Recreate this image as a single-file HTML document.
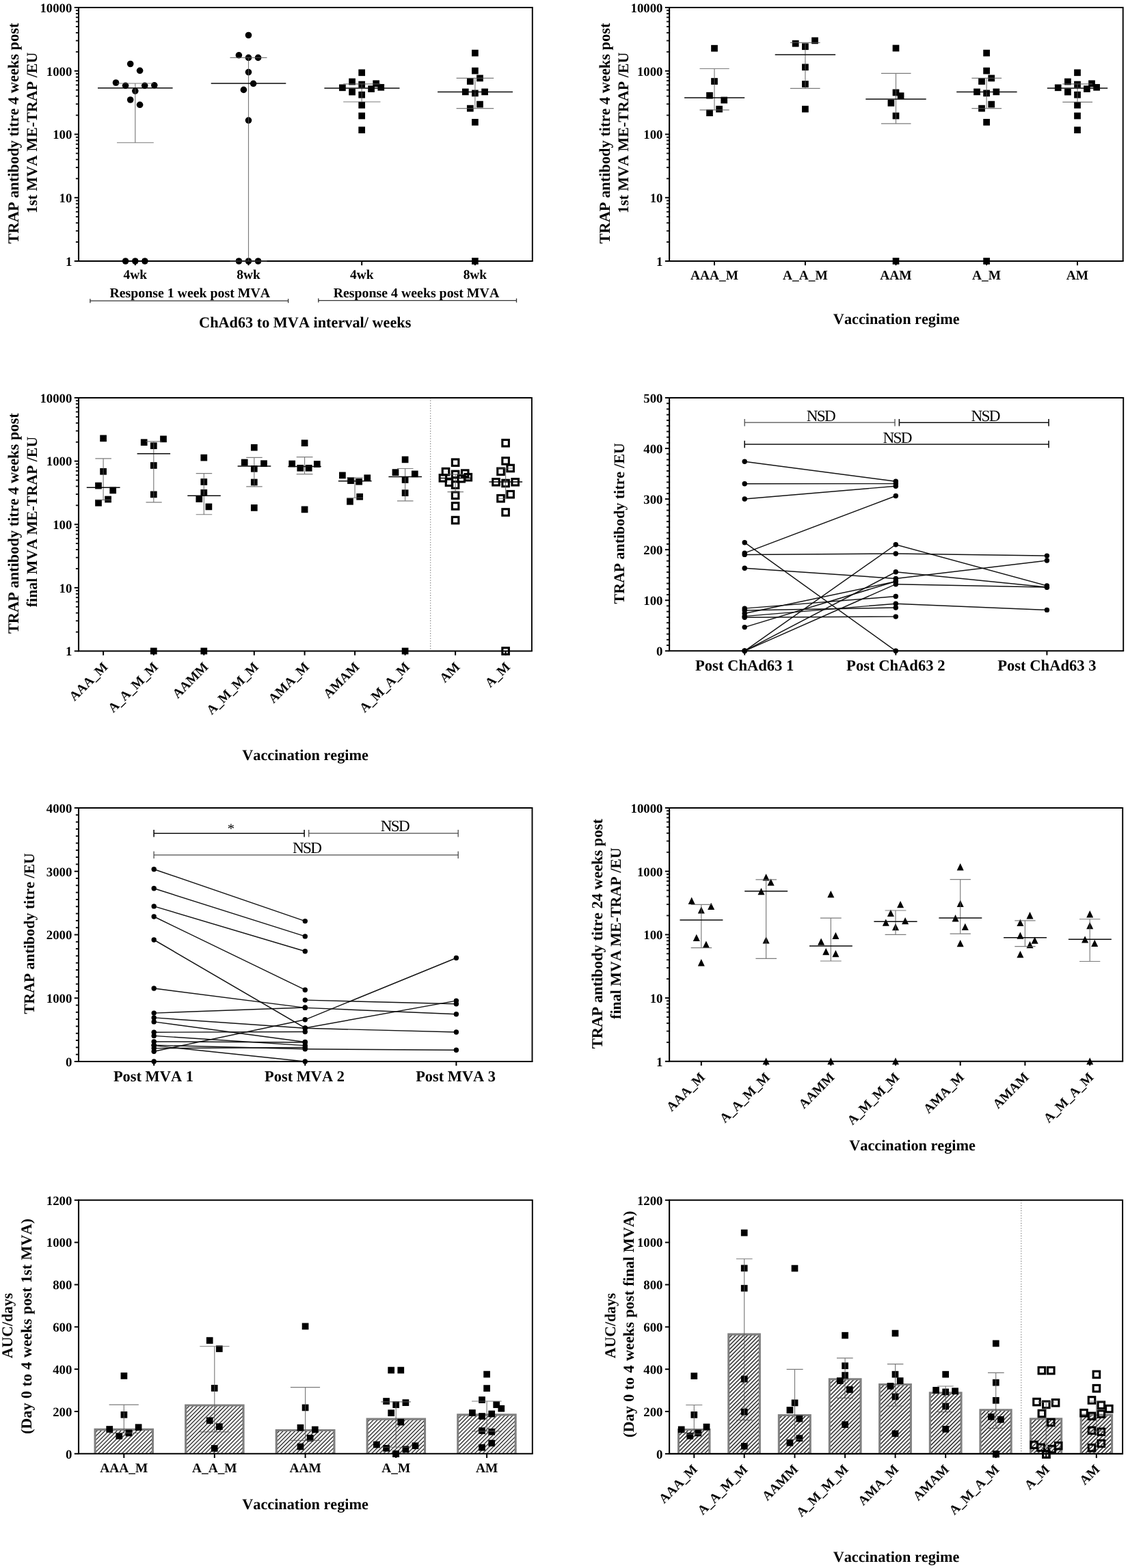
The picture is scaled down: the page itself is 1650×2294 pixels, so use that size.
<!DOCTYPE html>
<html lang="en"><head><meta charset="utf-8"><title>TRAP antibody titres and AUC by vaccination regime</title>
<style>html,body{margin:0;padding:0;background:#fff}body{width:1650px;height:2294px;overflow:hidden}svg{display:block}text{font-family:'Liberation Serif', 'DejaVu Serif', serif;fill:#000;font-kerning:none;font-variant-ligatures:none;text-rendering:geometricPrecision}</style>
</head><body>
<svg width="1650" height="2294" viewBox="0 0 1650 2294" role="img" aria-label="TRAP antibody titres and AUC by vaccination regime">
<defs>
<pattern id="hatch" width="4.1" height="4.1" patternUnits="userSpaceOnUse" patternTransform="rotate(-45)"><rect width="4.1" height="4.1" fill="#fff"/><line x1="0" y1="2.05" x2="4.1" y2="2.05" stroke="#000" stroke-width="1.3"/></pattern>
<pattern id="hatchG" width="4.1" height="4.1" patternUnits="userSpaceOnUse" patternTransform="rotate(-45)"><rect width="4.1" height="4.1" fill="#fff"/><line x1="0" y1="2.05" x2="4.1" y2="2.05" stroke="#000" stroke-width="1.12"/></pattern>
</defs>
<rect width="1650" height="2294" fill="#fff"/>
<g id="panelA">
<text x="26.8" y="195" font-size="22.4" font-weight="bold" text-anchor="middle" transform="rotate(-90 26.8 195)" xml:space="preserve">TRAP antibody titre 4 weeks post</text>
<text x="53.8" y="194.3" font-size="22" font-weight="bold" text-anchor="middle" transform="rotate(-90 53.8 194.3)" xml:space="preserve">1st MVA ME-TRAP /EU</text>
<line x1="197.8" y1="382" x2="197.8" y2="388.2" stroke="#000" stroke-width="2" />
<line x1="363.5" y1="382" x2="363.5" y2="388.2" stroke="#000" stroke-width="2" />
<line x1="529.2" y1="382" x2="529.2" y2="388.2" stroke="#000" stroke-width="2" />
<line x1="694.9" y1="382" x2="694.9" y2="388.2" stroke="#000" stroke-width="2" />
<path d="M115 11H778.8V382" fill="none" stroke="#000" stroke-width="1.9"/>
<path d="M115 10.05V382H779.75" fill="none" stroke="#000" stroke-width="2.1"/>
<line x1="108.8" y1="11" x2="115" y2="11" stroke="#000" stroke-width="2" />
<text x="105.4" y="17.8" font-size="18.8" font-weight="bold" text-anchor="end" >10000</text>
<line x1="110.9" y1="75.83" x2="115" y2="75.83" stroke="#000" stroke-width="1.8" />
<line x1="110.9" y1="59.5" x2="115" y2="59.5" stroke="#000" stroke-width="1.8" />
<line x1="110.9" y1="47.91" x2="115" y2="47.91" stroke="#000" stroke-width="1.8" />
<line x1="110.9" y1="38.92" x2="115" y2="38.92" stroke="#000" stroke-width="1.8" />
<line x1="110.9" y1="31.58" x2="115" y2="31.58" stroke="#000" stroke-width="1.8" />
<line x1="110.9" y1="25.37" x2="115" y2="25.37" stroke="#000" stroke-width="1.8" />
<line x1="110.9" y1="19.99" x2="115" y2="19.99" stroke="#000" stroke-width="1.8" />
<line x1="110.9" y1="15.24" x2="115" y2="15.24" stroke="#000" stroke-width="1.8" />
<line x1="108.8" y1="103.75" x2="115" y2="103.75" stroke="#000" stroke-width="2" />
<text x="105.4" y="110.55" font-size="18.8" font-weight="bold" text-anchor="end" >1000</text>
<line x1="110.9" y1="168.58" x2="115" y2="168.58" stroke="#000" stroke-width="1.8" />
<line x1="110.9" y1="152.25" x2="115" y2="152.25" stroke="#000" stroke-width="1.8" />
<line x1="110.9" y1="140.66" x2="115" y2="140.66" stroke="#000" stroke-width="1.8" />
<line x1="110.9" y1="131.67" x2="115" y2="131.67" stroke="#000" stroke-width="1.8" />
<line x1="110.9" y1="124.33" x2="115" y2="124.33" stroke="#000" stroke-width="1.8" />
<line x1="110.9" y1="118.12" x2="115" y2="118.12" stroke="#000" stroke-width="1.8" />
<line x1="110.9" y1="112.74" x2="115" y2="112.74" stroke="#000" stroke-width="1.8" />
<line x1="110.9" y1="107.99" x2="115" y2="107.99" stroke="#000" stroke-width="1.8" />
<line x1="108.8" y1="196.5" x2="115" y2="196.5" stroke="#000" stroke-width="2" />
<text x="105.4" y="203.3" font-size="18.8" font-weight="bold" text-anchor="end" >100</text>
<line x1="110.9" y1="261.33" x2="115" y2="261.33" stroke="#000" stroke-width="1.8" />
<line x1="110.9" y1="245" x2="115" y2="245" stroke="#000" stroke-width="1.8" />
<line x1="110.9" y1="233.41" x2="115" y2="233.41" stroke="#000" stroke-width="1.8" />
<line x1="110.9" y1="224.42" x2="115" y2="224.42" stroke="#000" stroke-width="1.8" />
<line x1="110.9" y1="217.08" x2="115" y2="217.08" stroke="#000" stroke-width="1.8" />
<line x1="110.9" y1="210.87" x2="115" y2="210.87" stroke="#000" stroke-width="1.8" />
<line x1="110.9" y1="205.49" x2="115" y2="205.49" stroke="#000" stroke-width="1.8" />
<line x1="110.9" y1="200.74" x2="115" y2="200.74" stroke="#000" stroke-width="1.8" />
<line x1="108.8" y1="289.25" x2="115" y2="289.25" stroke="#000" stroke-width="2" />
<text x="105.4" y="296.05" font-size="18.8" font-weight="bold" text-anchor="end" >10</text>
<line x1="110.9" y1="354.08" x2="115" y2="354.08" stroke="#000" stroke-width="1.8" />
<line x1="110.9" y1="337.75" x2="115" y2="337.75" stroke="#000" stroke-width="1.8" />
<line x1="110.9" y1="326.16" x2="115" y2="326.16" stroke="#000" stroke-width="1.8" />
<line x1="110.9" y1="317.17" x2="115" y2="317.17" stroke="#000" stroke-width="1.8" />
<line x1="110.9" y1="309.83" x2="115" y2="309.83" stroke="#000" stroke-width="1.8" />
<line x1="110.9" y1="303.62" x2="115" y2="303.62" stroke="#000" stroke-width="1.8" />
<line x1="110.9" y1="298.24" x2="115" y2="298.24" stroke="#000" stroke-width="1.8" />
<line x1="110.9" y1="293.49" x2="115" y2="293.49" stroke="#000" stroke-width="1.8" />
<line x1="108.8" y1="382" x2="115" y2="382" stroke="#000" stroke-width="2" />
<text x="105.4" y="388.8" font-size="18.8" font-weight="bold" text-anchor="end" >1</text>
<circle cx="190.7" cy="93.5" r="4.8"/>
<circle cx="204.6" cy="103.3" r="4.8"/>
<circle cx="169.5" cy="121" r="4.8"/>
<circle cx="183.6" cy="125.3" r="4.8"/>
<circle cx="211.7" cy="125.3" r="4.8"/>
<circle cx="225.8" cy="124.8" r="4.8"/>
<circle cx="197.8" cy="133.1" r="4.8"/>
<circle cx="190.7" cy="146" r="4.8"/>
<circle cx="204.6" cy="153.3" r="4.8"/>
<circle cx="183.6" cy="382" r="4.8"/>
<circle cx="197.8" cy="382" r="4.8"/>
<circle cx="211.9" cy="382" r="4.8"/>
<path d="M171 122H224.8M171 208.7H224.8M197.8 122V208.7" fill="none" stroke="#5a5a5a" stroke-width="1.15" stroke-opacity="0.8"/>
<line x1="143" y1="128.8" x2="252.6" y2="128.8" stroke="#0a0a0a" stroke-width="1.5" />
<circle cx="363.5" cy="51.5" r="4.8"/>
<circle cx="349.4" cy="80.8" r="4.8"/>
<circle cx="363.5" cy="84.4" r="4.8"/>
<circle cx="377.6" cy="84.4" r="4.8"/>
<circle cx="363.5" cy="105.6" r="4.8"/>
<circle cx="370.6" cy="122.3" r="4.8"/>
<circle cx="356.4" cy="131.4" r="4.8"/>
<circle cx="363.5" cy="176.1" r="4.8"/>
<circle cx="349.4" cy="382" r="4.8"/>
<circle cx="363.5" cy="382" r="4.8"/>
<circle cx="377.6" cy="382" r="4.8"/>
<path d="M336.5 84.4H390.5M336.5 382H390.5M363.5 84.4V382" fill="none" stroke="#5a5a5a" stroke-width="1.15" stroke-opacity="0.8"/>
<line x1="308.7" y1="122" x2="418.3" y2="122" stroke="#0a0a0a" stroke-width="1.5" />
<rect x="524.35" y="101.45" width="9.7" height="9.7"/>
<rect x="510.25" y="114.65" width="9.7" height="9.7"/>
<rect x="524.35" y="118.65" width="9.7" height="9.7"/>
<rect x="545.35" y="117.45" width="9.7" height="9.7"/>
<rect x="496.05" y="123.45" width="9.7" height="9.7"/>
<rect x="552.45" y="122.95" width="9.7" height="9.7"/>
<rect x="538.25" y="125.25" width="9.7" height="9.7"/>
<rect x="510.25" y="129.75" width="9.7" height="9.7"/>
<rect x="524.35" y="133.85" width="9.7" height="9.7"/>
<rect x="524.35" y="148.95" width="9.7" height="9.7"/>
<rect x="524.35" y="164.65" width="9.7" height="9.7"/>
<rect x="524.35" y="185.35" width="9.7" height="9.7"/>
<path d="M502.2 122.8H556.5M502.2 149H556.5M529.2 122.8V149" fill="none" stroke="#5a5a5a" stroke-width="1.15" stroke-opacity="0.8"/>
<line x1="474.4" y1="129.1" x2="584.5" y2="129.1" stroke="#0a0a0a" stroke-width="1.5" />
<rect x="690.05" y="72.75" width="9.7" height="9.7"/>
<rect x="690.05" y="98.75" width="9.7" height="9.7"/>
<rect x="697.15" y="109.55" width="9.7" height="9.7"/>
<rect x="682.95" y="114.15" width="9.7" height="9.7"/>
<rect x="675.95" y="129.55" width="9.7" height="9.7"/>
<rect x="690.05" y="131.55" width="9.7" height="9.7"/>
<rect x="704.25" y="129.55" width="9.7" height="9.7"/>
<rect x="697.15" y="147.75" width="9.7" height="9.7"/>
<rect x="682.95" y="153.75" width="9.7" height="9.7"/>
<rect x="690.05" y="173.95" width="9.7" height="9.7"/>
<rect x="690.05" y="377.15" width="9.7" height="9.7"/>
<path d="M667.6 114.4H722.2M667.6 158.6H722.2M694.9 114.4V158.6" fill="none" stroke="#5a5a5a" stroke-width="1.15" stroke-opacity="0.8"/>
<line x1="640.1" y1="134.4" x2="750" y2="134.4" stroke="#0a0a0a" stroke-width="1.5" />
<text x="197.8" y="408.3" font-size="19.4" font-weight="bold" text-anchor="middle" >4wk</text>
<text x="363.5" y="408.3" font-size="19.4" font-weight="bold" text-anchor="middle" >8wk</text>
<text x="529.2" y="408.3" font-size="19.4" font-weight="bold" text-anchor="middle" >4wk</text>
<text x="694.9" y="408.3" font-size="19.4" font-weight="bold" text-anchor="middle" >8wk</text>
<text x="277.8" y="435" font-size="19.85" font-weight="bold" text-anchor="middle" >Response 1 week post MVA</text>
<text x="609" y="435" font-size="19.85" font-weight="bold" text-anchor="middle" >Response 4 weeks post MVA</text>
<line x1="131.9" y1="440.2" x2="421.6" y2="440.2" stroke="#333" stroke-width="1.3" />
<line x1="131.9" y1="437.2" x2="131.9" y2="443.2" stroke="#333" stroke-width="1.3" />
<line x1="421.6" y1="437.2" x2="421.6" y2="443.2" stroke="#333" stroke-width="1.3" />
<line x1="465.8" y1="439.6" x2="755.5" y2="439.6" stroke="#333" stroke-width="1.3" />
<line x1="465.8" y1="436.6" x2="465.8" y2="442.6" stroke="#333" stroke-width="1.3" />
<line x1="755.5" y1="436.6" x2="755.5" y2="442.6" stroke="#333" stroke-width="1.3" />
<text x="446.2" y="479" font-size="22.25" font-weight="bold" text-anchor="middle" >ChAd63 to MVA interval/ weeks</text>
</g>
<g id="panelB">
<text x="891.9" y="195" font-size="22.4" font-weight="bold" text-anchor="middle" transform="rotate(-90 891.9 195)" xml:space="preserve">TRAP antibody titre 4 weeks post</text>
<text x="919" y="194.3" font-size="22" font-weight="bold" text-anchor="middle" transform="rotate(-90 919 194.3)" xml:space="preserve">1st MVA ME-TRAP /EU</text>
<line x1="1045" y1="382" x2="1045" y2="388.2" stroke="#000" stroke-width="2" />
<line x1="1177.9" y1="382" x2="1177.9" y2="388.2" stroke="#000" stroke-width="2" />
<line x1="1310.5" y1="382" x2="1310.5" y2="388.2" stroke="#000" stroke-width="2" />
<line x1="1443.1" y1="382" x2="1443.1" y2="388.2" stroke="#000" stroke-width="2" />
<line x1="1576" y1="382" x2="1576" y2="388.2" stroke="#000" stroke-width="2" />
<path d="M979.1 11H1642.7V382" fill="none" stroke="#000" stroke-width="1.9"/>
<path d="M979.1 10.05V382H1643.65" fill="none" stroke="#000" stroke-width="2.1"/>
<line x1="972.9" y1="11" x2="979.1" y2="11" stroke="#000" stroke-width="2" />
<text x="969.5" y="17.8" font-size="18.8" font-weight="bold" text-anchor="end" >10000</text>
<line x1="975" y1="75.83" x2="979.1" y2="75.83" stroke="#000" stroke-width="1.8" />
<line x1="975" y1="59.5" x2="979.1" y2="59.5" stroke="#000" stroke-width="1.8" />
<line x1="975" y1="47.91" x2="979.1" y2="47.91" stroke="#000" stroke-width="1.8" />
<line x1="975" y1="38.92" x2="979.1" y2="38.92" stroke="#000" stroke-width="1.8" />
<line x1="975" y1="31.58" x2="979.1" y2="31.58" stroke="#000" stroke-width="1.8" />
<line x1="975" y1="25.37" x2="979.1" y2="25.37" stroke="#000" stroke-width="1.8" />
<line x1="975" y1="19.99" x2="979.1" y2="19.99" stroke="#000" stroke-width="1.8" />
<line x1="975" y1="15.24" x2="979.1" y2="15.24" stroke="#000" stroke-width="1.8" />
<line x1="972.9" y1="103.75" x2="979.1" y2="103.75" stroke="#000" stroke-width="2" />
<text x="969.5" y="110.55" font-size="18.8" font-weight="bold" text-anchor="end" >1000</text>
<line x1="975" y1="168.58" x2="979.1" y2="168.58" stroke="#000" stroke-width="1.8" />
<line x1="975" y1="152.25" x2="979.1" y2="152.25" stroke="#000" stroke-width="1.8" />
<line x1="975" y1="140.66" x2="979.1" y2="140.66" stroke="#000" stroke-width="1.8" />
<line x1="975" y1="131.67" x2="979.1" y2="131.67" stroke="#000" stroke-width="1.8" />
<line x1="975" y1="124.33" x2="979.1" y2="124.33" stroke="#000" stroke-width="1.8" />
<line x1="975" y1="118.12" x2="979.1" y2="118.12" stroke="#000" stroke-width="1.8" />
<line x1="975" y1="112.74" x2="979.1" y2="112.74" stroke="#000" stroke-width="1.8" />
<line x1="975" y1="107.99" x2="979.1" y2="107.99" stroke="#000" stroke-width="1.8" />
<line x1="972.9" y1="196.5" x2="979.1" y2="196.5" stroke="#000" stroke-width="2" />
<text x="969.5" y="203.3" font-size="18.8" font-weight="bold" text-anchor="end" >100</text>
<line x1="975" y1="261.33" x2="979.1" y2="261.33" stroke="#000" stroke-width="1.8" />
<line x1="975" y1="245" x2="979.1" y2="245" stroke="#000" stroke-width="1.8" />
<line x1="975" y1="233.41" x2="979.1" y2="233.41" stroke="#000" stroke-width="1.8" />
<line x1="975" y1="224.42" x2="979.1" y2="224.42" stroke="#000" stroke-width="1.8" />
<line x1="975" y1="217.08" x2="979.1" y2="217.08" stroke="#000" stroke-width="1.8" />
<line x1="975" y1="210.87" x2="979.1" y2="210.87" stroke="#000" stroke-width="1.8" />
<line x1="975" y1="205.49" x2="979.1" y2="205.49" stroke="#000" stroke-width="1.8" />
<line x1="975" y1="200.74" x2="979.1" y2="200.74" stroke="#000" stroke-width="1.8" />
<line x1="972.9" y1="289.25" x2="979.1" y2="289.25" stroke="#000" stroke-width="2" />
<text x="969.5" y="296.05" font-size="18.8" font-weight="bold" text-anchor="end" >10</text>
<line x1="975" y1="354.08" x2="979.1" y2="354.08" stroke="#000" stroke-width="1.8" />
<line x1="975" y1="337.75" x2="979.1" y2="337.75" stroke="#000" stroke-width="1.8" />
<line x1="975" y1="326.16" x2="979.1" y2="326.16" stroke="#000" stroke-width="1.8" />
<line x1="975" y1="317.17" x2="979.1" y2="317.17" stroke="#000" stroke-width="1.8" />
<line x1="975" y1="309.83" x2="979.1" y2="309.83" stroke="#000" stroke-width="1.8" />
<line x1="975" y1="303.62" x2="979.1" y2="303.62" stroke="#000" stroke-width="1.8" />
<line x1="975" y1="298.24" x2="979.1" y2="298.24" stroke="#000" stroke-width="1.8" />
<line x1="975" y1="293.49" x2="979.1" y2="293.49" stroke="#000" stroke-width="1.8" />
<line x1="972.9" y1="382" x2="979.1" y2="382" stroke="#000" stroke-width="2" />
<text x="969.5" y="388.8" font-size="18.8" font-weight="bold" text-anchor="end" >1</text>
<rect x="1040.15" y="65.85" width="9.7" height="9.7"/>
<rect x="1040.15" y="114.15" width="9.7" height="9.7"/>
<rect x="1033.15" y="134.85" width="9.7" height="9.7"/>
<rect x="1054.35" y="141.65" width="9.7" height="9.7"/>
<rect x="1047.25" y="154.75" width="9.7" height="9.7"/>
<rect x="1033.15" y="160.35" width="9.7" height="9.7"/>
<path d="M1023.5 100.5H1066.7M1023.5 160.9H1066.7M1045 100.5V160.9" fill="none" stroke="#5a5a5a" stroke-width="1.15" stroke-opacity="0.8"/>
<line x1="1001.1" y1="143" x2="1089.2" y2="143" stroke="#0a0a0a" stroke-width="1.5" />
<rect x="1158.85" y="58.85" width="9.7" height="9.7"/>
<rect x="1187.15" y="54.55" width="9.7" height="9.7"/>
<rect x="1173.05" y="63.35" width="9.7" height="9.7"/>
<rect x="1173.05" y="93.45" width="9.7" height="9.7"/>
<rect x="1173.05" y="118.15" width="9.7" height="9.7"/>
<rect x="1173.05" y="154.75" width="9.7" height="9.7"/>
<path d="M1155.9 62.4H1199.6M1155.9 129.3H1199.6M1177.9 62.4V129.3" fill="none" stroke="#5a5a5a" stroke-width="1.15" stroke-opacity="0.8"/>
<line x1="1133.7" y1="80.1" x2="1222.1" y2="80.1" stroke="#0a0a0a" stroke-width="1.5" />
<rect x="1305.65" y="65.65" width="9.7" height="9.7"/>
<rect x="1305.65" y="130.55" width="9.7" height="9.7"/>
<rect x="1312.75" y="135.35" width="9.7" height="9.7"/>
<rect x="1298.55" y="145.95" width="9.7" height="9.7"/>
<rect x="1305.65" y="164.65" width="9.7" height="9.7"/>
<rect x="1305.65" y="377.15" width="9.7" height="9.7"/>
<path d="M1289 107.4H1332.5M1289 180.9H1332.5M1310.5 107.4V180.9" fill="none" stroke="#5a5a5a" stroke-width="1.15" stroke-opacity="0.8"/>
<line x1="1266.3" y1="145" x2="1354.7" y2="145" stroke="#0a0a0a" stroke-width="1.5" />
<rect x="1438.25" y="72.75" width="9.7" height="9.7"/>
<rect x="1438.25" y="98.75" width="9.7" height="9.7"/>
<rect x="1445.35" y="109.55" width="9.7" height="9.7"/>
<rect x="1431.15" y="114.15" width="9.7" height="9.7"/>
<rect x="1424.15" y="129.55" width="9.7" height="9.7"/>
<rect x="1438.25" y="131.55" width="9.7" height="9.7"/>
<rect x="1452.45" y="129.55" width="9.7" height="9.7"/>
<rect x="1445.35" y="147.75" width="9.7" height="9.7"/>
<rect x="1431.15" y="153.75" width="9.7" height="9.7"/>
<rect x="1438.25" y="173.95" width="9.7" height="9.7"/>
<rect x="1438.25" y="377.15" width="9.7" height="9.7"/>
<path d="M1421.4 114.4H1465.1M1421.4 158.6H1465.1M1443.1 114.4V158.6" fill="none" stroke="#5a5a5a" stroke-width="1.15" stroke-opacity="0.8"/>
<line x1="1399.2" y1="134.4" x2="1487.6" y2="134.4" stroke="#0a0a0a" stroke-width="1.5" />
<rect x="1571.15" y="101.45" width="9.7" height="9.7"/>
<rect x="1557.05" y="114.65" width="9.7" height="9.7"/>
<rect x="1571.15" y="118.65" width="9.7" height="9.7"/>
<rect x="1592.15" y="117.45" width="9.7" height="9.7"/>
<rect x="1542.85" y="123.45" width="9.7" height="9.7"/>
<rect x="1599.25" y="122.95" width="9.7" height="9.7"/>
<rect x="1585.05" y="125.25" width="9.7" height="9.7"/>
<rect x="1557.05" y="129.75" width="9.7" height="9.7"/>
<rect x="1571.15" y="133.85" width="9.7" height="9.7"/>
<rect x="1571.15" y="148.95" width="9.7" height="9.7"/>
<rect x="1571.15" y="164.65" width="9.7" height="9.7"/>
<rect x="1571.15" y="185.35" width="9.7" height="9.7"/>
<path d="M1554.3 122.8H1598M1554.3 149.3H1598M1576 122.8V149.3" fill="none" stroke="#5a5a5a" stroke-width="1.15" stroke-opacity="0.8"/>
<line x1="1531.8" y1="129.1" x2="1620.2" y2="129.1" stroke="#0a0a0a" stroke-width="1.5" />
<text x="1045" y="408.5" font-size="19.4" font-weight="bold" text-anchor="middle" >AAA_M</text>
<text x="1177.9" y="408.5" font-size="19.4" font-weight="bold" text-anchor="middle" >A_A_M</text>
<text x="1310.5" y="408.5" font-size="19.4" font-weight="bold" text-anchor="middle" >AAM</text>
<text x="1443.1" y="408.5" font-size="19.4" font-weight="bold" text-anchor="middle" >A_M</text>
<text x="1576" y="408.5" font-size="19.4" font-weight="bold" text-anchor="middle" >AM</text>
<text x="1311.2" y="474.2" font-size="22.25" font-weight="bold" text-anchor="middle" >Vaccination regime</text>
</g>
<g id="panelC">
<text x="26.8" y="765.7" font-size="22.4" font-weight="bold" text-anchor="middle" transform="rotate(-90 26.8 765.7)" xml:space="preserve">TRAP antibody titre 4 weeks post</text>
<text x="53.8" y="763.5" font-size="21.85" font-weight="bold" text-anchor="middle" transform="rotate(-90 53.8 763.5)" xml:space="preserve">final MVA ME-TRAP /EU</text>
<line x1="151.1" y1="952.5" x2="151.1" y2="958.7" stroke="#000" stroke-width="2" />
<line x1="224.8" y1="952.5" x2="224.8" y2="958.7" stroke="#000" stroke-width="2" />
<line x1="298.3" y1="952.5" x2="298.3" y2="958.7" stroke="#000" stroke-width="2" />
<line x1="371.8" y1="952.5" x2="371.8" y2="958.7" stroke="#000" stroke-width="2" />
<line x1="445.6" y1="952.5" x2="445.6" y2="958.7" stroke="#000" stroke-width="2" />
<line x1="519.1" y1="952.5" x2="519.1" y2="958.7" stroke="#000" stroke-width="2" />
<line x1="592.6" y1="952.5" x2="592.6" y2="958.7" stroke="#000" stroke-width="2" />
<line x1="666.1" y1="952.5" x2="666.1" y2="958.7" stroke="#000" stroke-width="2" />
<line x1="739.6" y1="952.5" x2="739.6" y2="958.7" stroke="#000" stroke-width="2" />
<line x1="629.7" y1="582" x2="629.7" y2="952.5" stroke="#777" stroke-width="1.1" stroke-dasharray="1.3 2.4"/>
<path d="M115 582H777.9V952.5" fill="none" stroke="#000" stroke-width="1.9"/>
<path d="M115 581.05V952.5H778.85" fill="none" stroke="#000" stroke-width="2.1"/>
<line x1="108.8" y1="582" x2="115" y2="582" stroke="#000" stroke-width="2" />
<text x="105.4" y="588.8" font-size="18.8" font-weight="bold" text-anchor="end" >10000</text>
<line x1="110.9" y1="646.74" x2="115" y2="646.74" stroke="#000" stroke-width="1.8" />
<line x1="110.9" y1="630.43" x2="115" y2="630.43" stroke="#000" stroke-width="1.8" />
<line x1="110.9" y1="618.86" x2="115" y2="618.86" stroke="#000" stroke-width="1.8" />
<line x1="110.9" y1="609.88" x2="115" y2="609.88" stroke="#000" stroke-width="1.8" />
<line x1="110.9" y1="602.55" x2="115" y2="602.55" stroke="#000" stroke-width="1.8" />
<line x1="110.9" y1="596.35" x2="115" y2="596.35" stroke="#000" stroke-width="1.8" />
<line x1="110.9" y1="590.98" x2="115" y2="590.98" stroke="#000" stroke-width="1.8" />
<line x1="110.9" y1="586.24" x2="115" y2="586.24" stroke="#000" stroke-width="1.8" />
<line x1="108.8" y1="674.62" x2="115" y2="674.62" stroke="#000" stroke-width="2" />
<text x="105.4" y="681.42" font-size="18.8" font-weight="bold" text-anchor="end" >1000</text>
<line x1="110.9" y1="739.37" x2="115" y2="739.37" stroke="#000" stroke-width="1.8" />
<line x1="110.9" y1="723.06" x2="115" y2="723.06" stroke="#000" stroke-width="1.8" />
<line x1="110.9" y1="711.48" x2="115" y2="711.48" stroke="#000" stroke-width="1.8" />
<line x1="110.9" y1="702.51" x2="115" y2="702.51" stroke="#000" stroke-width="1.8" />
<line x1="110.9" y1="695.17" x2="115" y2="695.17" stroke="#000" stroke-width="1.8" />
<line x1="110.9" y1="688.97" x2="115" y2="688.97" stroke="#000" stroke-width="1.8" />
<line x1="110.9" y1="683.6" x2="115" y2="683.6" stroke="#000" stroke-width="1.8" />
<line x1="110.9" y1="678.86" x2="115" y2="678.86" stroke="#000" stroke-width="1.8" />
<line x1="108.8" y1="767.25" x2="115" y2="767.25" stroke="#000" stroke-width="2" />
<text x="105.4" y="774.05" font-size="18.8" font-weight="bold" text-anchor="end" >100</text>
<line x1="110.9" y1="831.99" x2="115" y2="831.99" stroke="#000" stroke-width="1.8" />
<line x1="110.9" y1="815.68" x2="115" y2="815.68" stroke="#000" stroke-width="1.8" />
<line x1="110.9" y1="804.11" x2="115" y2="804.11" stroke="#000" stroke-width="1.8" />
<line x1="110.9" y1="795.13" x2="115" y2="795.13" stroke="#000" stroke-width="1.8" />
<line x1="110.9" y1="787.8" x2="115" y2="787.8" stroke="#000" stroke-width="1.8" />
<line x1="110.9" y1="781.6" x2="115" y2="781.6" stroke="#000" stroke-width="1.8" />
<line x1="110.9" y1="776.23" x2="115" y2="776.23" stroke="#000" stroke-width="1.8" />
<line x1="110.9" y1="771.49" x2="115" y2="771.49" stroke="#000" stroke-width="1.8" />
<line x1="108.8" y1="859.88" x2="115" y2="859.88" stroke="#000" stroke-width="2" />
<text x="105.4" y="866.67" font-size="18.8" font-weight="bold" text-anchor="end" >10</text>
<line x1="110.9" y1="924.62" x2="115" y2="924.62" stroke="#000" stroke-width="1.8" />
<line x1="110.9" y1="908.31" x2="115" y2="908.31" stroke="#000" stroke-width="1.8" />
<line x1="110.9" y1="896.73" x2="115" y2="896.73" stroke="#000" stroke-width="1.8" />
<line x1="110.9" y1="887.76" x2="115" y2="887.76" stroke="#000" stroke-width="1.8" />
<line x1="110.9" y1="880.42" x2="115" y2="880.42" stroke="#000" stroke-width="1.8" />
<line x1="110.9" y1="874.22" x2="115" y2="874.22" stroke="#000" stroke-width="1.8" />
<line x1="110.9" y1="868.85" x2="115" y2="868.85" stroke="#000" stroke-width="1.8" />
<line x1="110.9" y1="864.11" x2="115" y2="864.11" stroke="#000" stroke-width="1.8" />
<line x1="108.8" y1="952.5" x2="115" y2="952.5" stroke="#000" stroke-width="2" />
<text x="105.4" y="959.3" font-size="18.8" font-weight="bold" text-anchor="end" >1</text>
<rect x="146.25" y="636.45" width="9.7" height="9.7"/>
<rect x="146.25" y="684.95" width="9.7" height="9.7"/>
<rect x="139.15" y="705.75" width="9.7" height="9.7"/>
<rect x="160.35" y="712.55" width="9.7" height="9.7"/>
<rect x="153.25" y="725.65" width="9.7" height="9.7"/>
<rect x="139.15" y="730.95" width="9.7" height="9.7"/>
<path d="M139.4 670.9H162.9M139.4 731.3H162.9M151.1 670.9V731.3" fill="none" stroke="#5a5a5a" stroke-width="1.15" stroke-opacity="0.8"/>
<line x1="126.8" y1="713.3" x2="175.6" y2="713.3" stroke="#0a0a0a" stroke-width="1.5" />
<rect x="205.85" y="642.35" width="9.7" height="9.7"/>
<rect x="234.15" y="637.45" width="9.7" height="9.7"/>
<rect x="219.95" y="647.35" width="9.7" height="9.7"/>
<rect x="219.95" y="676.15" width="9.7" height="9.7"/>
<rect x="219.95" y="718.55" width="9.7" height="9.7"/>
<rect x="219.95" y="947.65" width="9.7" height="9.7"/>
<path d="M213.5 645.9H236.7M213.5 734.8H236.7M224.8 645.9V734.8" fill="none" stroke="#5a5a5a" stroke-width="1.15" stroke-opacity="0.8"/>
<line x1="200.6" y1="663.8" x2="249.1" y2="663.8" stroke="#0a0a0a" stroke-width="1.5" />
<rect x="293.45" y="664.75" width="9.7" height="9.7"/>
<rect x="293.45" y="700.15" width="9.7" height="9.7"/>
<rect x="293.45" y="716.05" width="9.7" height="9.7"/>
<rect x="286.45" y="725.15" width="9.7" height="9.7"/>
<rect x="300.55" y="736.55" width="9.7" height="9.7"/>
<rect x="293.45" y="947.65" width="9.7" height="9.7"/>
<path d="M286.7 692.6H310.2M286.7 752.7H310.2M298.3 692.6V752.7" fill="none" stroke="#5a5a5a" stroke-width="1.15" stroke-opacity="0.8"/>
<line x1="274.3" y1="725.2" x2="322.8" y2="725.2" stroke="#0a0a0a" stroke-width="1.5" />
<rect x="366.95" y="649.85" width="9.7" height="9.7"/>
<rect x="352.85" y="671.65" width="9.7" height="9.7"/>
<rect x="381.15" y="673.35" width="9.7" height="9.7"/>
<rect x="366.95" y="680.95" width="9.7" height="9.7"/>
<rect x="366.95" y="700.65" width="9.7" height="9.7"/>
<rect x="366.95" y="738.05" width="9.7" height="9.7"/>
<path d="M360.2 669.4H383.7M360.2 711.8H383.7M371.8 669.4V711.8" fill="none" stroke="#5a5a5a" stroke-width="1.15" stroke-opacity="0.8"/>
<line x1="347.6" y1="682" x2="396.3" y2="682" stroke="#0a0a0a" stroke-width="1.5" />
<rect x="440.75" y="643.35" width="9.7" height="9.7"/>
<rect x="422.35" y="673.65" width="9.7" height="9.7"/>
<rect x="434.45" y="679.95" width="9.7" height="9.7"/>
<rect x="446.85" y="679.95" width="9.7" height="9.7"/>
<rect x="458.95" y="674.15" width="9.7" height="9.7"/>
<rect x="440.75" y="740.55" width="9.7" height="9.7"/>
<path d="M433.7 668.6H457.5M433.7 693.6H457.5M445.6 668.6V693.6" fill="none" stroke="#5a5a5a" stroke-width="1.15" stroke-opacity="0.8"/>
<line x1="421.3" y1="682.5" x2="469.8" y2="682.5" stroke="#0a0a0a" stroke-width="1.5" />
<rect x="496.05" y="690.55" width="9.7" height="9.7"/>
<rect x="508.15" y="698.35" width="9.7" height="9.7"/>
<rect x="520.35" y="699.85" width="9.7" height="9.7"/>
<rect x="532.45" y="694.35" width="9.7" height="9.7"/>
<rect x="521.35" y="721.85" width="9.7" height="9.7"/>
<rect x="507.15" y="728.95" width="9.7" height="9.7"/>
<path d="M507.2 698.7H530.7M507.2 728.2H530.7M519.1 698.7V728.2" fill="none" stroke="#5a5a5a" stroke-width="1.15" stroke-opacity="0.8"/>
<line x1="494.9" y1="703.7" x2="543.6" y2="703.7" stroke="#0a0a0a" stroke-width="1.5" />
<rect x="587.75" y="667.55" width="9.7" height="9.7"/>
<rect x="573.65" y="686.25" width="9.7" height="9.7"/>
<rect x="601.95" y="688.55" width="9.7" height="9.7"/>
<rect x="587.75" y="697.15" width="9.7" height="9.7"/>
<rect x="587.75" y="716.35" width="9.7" height="9.7"/>
<rect x="587.75" y="947.65" width="9.7" height="9.7"/>
<path d="M581 685.5H604.5M581 732.8H604.5M592.6 685.5V732.8" fill="none" stroke="#5a5a5a" stroke-width="1.15" stroke-opacity="0.8"/>
<line x1="568.4" y1="697.4" x2="617.1" y2="697.4" stroke="#0a0a0a" stroke-width="1.5" />
<rect x="661.35" y="671.95" width="9.5" height="9.5" fill="none" stroke="#000" stroke-width="3.1"/>
<rect x="647.25" y="685.35" width="9.5" height="9.5" fill="none" stroke="#000" stroke-width="3.1"/>
<rect x="661.35" y="689.15" width="9.5" height="9.5" fill="none" stroke="#000" stroke-width="3.1"/>
<rect x="675.45" y="687.85" width="9.5" height="9.5" fill="none" stroke="#000" stroke-width="3.1"/>
<rect x="643.15" y="694.65" width="9.5" height="9.5" fill="none" stroke="#000" stroke-width="3.1"/>
<rect x="680.05" y="693.45" width="9.5" height="9.5" fill="none" stroke="#000" stroke-width="3.1"/>
<rect x="669.95" y="695.45" width="9.5" height="9.5" fill="none" stroke="#000" stroke-width="3.1"/>
<rect x="652.25" y="701.05" width="9.5" height="9.5" fill="none" stroke="#000" stroke-width="3.1"/>
<rect x="661.35" y="704.75" width="9.5" height="9.5" fill="none" stroke="#000" stroke-width="3.1"/>
<rect x="661.35" y="719.95" width="9.5" height="9.5" fill="none" stroke="#000" stroke-width="3.1"/>
<rect x="661.35" y="735.65" width="9.5" height="9.5" fill="none" stroke="#000" stroke-width="3.1"/>
<rect x="661.35" y="756.35" width="9.5" height="9.5" fill="none" stroke="#000" stroke-width="3.1"/>
<path d="M654.5 693.8H678M654.5 719.6H678M666.1 693.8V719.6" fill="none" stroke="#5a5a5a" stroke-width="1.15" stroke-opacity="0.8"/>
<line x1="641.9" y1="699.4" x2="690.4" y2="699.4" stroke="#0a0a0a" stroke-width="1.5" />
<rect x="734.85" y="643.45" width="9.5" height="9.5" fill="none" stroke="#000" stroke-width="3.1"/>
<rect x="734.85" y="669.65" width="9.5" height="9.5" fill="none" stroke="#000" stroke-width="3.1"/>
<rect x="741.95" y="680.25" width="9.5" height="9.5" fill="none" stroke="#000" stroke-width="3.1"/>
<rect x="727.75" y="685.05" width="9.5" height="9.5" fill="none" stroke="#000" stroke-width="3.1"/>
<rect x="720.75" y="700.55" width="9.5" height="9.5" fill="none" stroke="#000" stroke-width="3.1"/>
<rect x="734.85" y="702.25" width="9.5" height="9.5" fill="none" stroke="#000" stroke-width="3.1"/>
<rect x="748.95" y="700.55" width="9.5" height="9.5" fill="none" stroke="#000" stroke-width="3.1"/>
<rect x="741.95" y="718.45" width="9.5" height="9.5" fill="none" stroke="#000" stroke-width="3.1"/>
<rect x="727.75" y="724.45" width="9.5" height="9.5" fill="none" stroke="#000" stroke-width="3.1"/>
<rect x="734.85" y="744.75" width="9.5" height="9.5" fill="none" stroke="#000" stroke-width="3.1"/>
<rect x="734.85" y="947.75" width="9.5" height="9.5" fill="none" stroke="#000" stroke-width="3.1"/>
<path d="M728 685H751.3M728 729.2H751.3M739.6 685V729.2" fill="none" stroke="#5a5a5a" stroke-width="1.15" stroke-opacity="0.8"/>
<line x1="715.4" y1="705" x2="764.1" y2="705" stroke="#0a0a0a" stroke-width="1.5" />
<text x="158.7" y="976.8" font-size="19.5" font-weight="bold" text-anchor="end" transform="rotate(-45 158.7 976.8)">AAA_M</text>
<text x="232.4" y="976.8" font-size="19.5" font-weight="bold" text-anchor="end" transform="rotate(-45 232.4 976.8)">A_A_M_M</text>
<text x="305.9" y="976.8" font-size="19.5" font-weight="bold" text-anchor="end" transform="rotate(-45 305.9 976.8)">AAMM</text>
<text x="379.4" y="976.8" font-size="19.5" font-weight="bold" text-anchor="end" transform="rotate(-45 379.4 976.8)">A_M_M_M</text>
<text x="453.2" y="976.8" font-size="19.5" font-weight="bold" text-anchor="end" transform="rotate(-45 453.2 976.8)">AMA_M</text>
<text x="526.7" y="976.8" font-size="19.5" font-weight="bold" text-anchor="end" transform="rotate(-45 526.7 976.8)">AMAM</text>
<text x="600.2" y="976.8" font-size="19.5" font-weight="bold" text-anchor="end" transform="rotate(-45 600.2 976.8)">A_M_A_M</text>
<text x="673.7" y="976.8" font-size="19.5" font-weight="bold" text-anchor="end" transform="rotate(-45 673.7 976.8)">AM</text>
<text x="747.2" y="976.8" font-size="19.5" font-weight="bold" text-anchor="end" transform="rotate(-45 747.2 976.8)">A_M</text>
<text x="446.6" y="1111.7" font-size="22.25" font-weight="bold" text-anchor="middle" >Vaccination regime</text>
</g>
<g id="panelD">
<text x="913.2" y="765.8" font-size="21.9" font-weight="bold" text-anchor="middle" transform="rotate(-90 913.2 765.8)" xml:space="preserve">TRAP antibody titre /EU</text>
<line x1="1089.2" y1="952.3" x2="1089.2" y2="958.5" stroke="#000" stroke-width="2" />
<line x1="1310.3" y1="952.3" x2="1310.3" y2="958.5" stroke="#000" stroke-width="2" />
<line x1="1531.4" y1="952.3" x2="1531.4" y2="958.5" stroke="#000" stroke-width="2" />
<path d="M979.1 582H1643.2V952.3" fill="none" stroke="#000" stroke-width="1.9"/>
<path d="M979.1 581.05V952.3H1644.15" fill="none" stroke="#000" stroke-width="2.1"/>
<line x1="972.9" y1="582" x2="979.1" y2="582" stroke="#000" stroke-width="2" />
<text x="969.5" y="588.8" font-size="18.8" font-weight="bold" text-anchor="end" >500</text>
<line x1="975" y1="590.23" x2="979.1" y2="590.23" stroke="#000" stroke-width="1.9" />
<line x1="975" y1="598.46" x2="979.1" y2="598.46" stroke="#000" stroke-width="1.9" />
<line x1="975" y1="606.69" x2="979.1" y2="606.69" stroke="#000" stroke-width="1.9" />
<line x1="975" y1="614.92" x2="979.1" y2="614.92" stroke="#000" stroke-width="1.9" />
<line x1="975" y1="623.14" x2="979.1" y2="623.14" stroke="#000" stroke-width="1.9" />
<line x1="975" y1="631.37" x2="979.1" y2="631.37" stroke="#000" stroke-width="1.9" />
<line x1="975" y1="639.6" x2="979.1" y2="639.6" stroke="#000" stroke-width="1.9" />
<line x1="975" y1="647.83" x2="979.1" y2="647.83" stroke="#000" stroke-width="1.9" />
<line x1="972.9" y1="656.06" x2="979.1" y2="656.06" stroke="#000" stroke-width="2" />
<text x="969.5" y="662.86" font-size="18.8" font-weight="bold" text-anchor="end" >400</text>
<line x1="975" y1="664.29" x2="979.1" y2="664.29" stroke="#000" stroke-width="1.9" />
<line x1="975" y1="672.52" x2="979.1" y2="672.52" stroke="#000" stroke-width="1.9" />
<line x1="975" y1="680.75" x2="979.1" y2="680.75" stroke="#000" stroke-width="1.9" />
<line x1="975" y1="688.98" x2="979.1" y2="688.98" stroke="#000" stroke-width="1.9" />
<line x1="975" y1="697.2" x2="979.1" y2="697.2" stroke="#000" stroke-width="1.9" />
<line x1="975" y1="705.43" x2="979.1" y2="705.43" stroke="#000" stroke-width="1.9" />
<line x1="975" y1="713.66" x2="979.1" y2="713.66" stroke="#000" stroke-width="1.9" />
<line x1="975" y1="721.89" x2="979.1" y2="721.89" stroke="#000" stroke-width="1.9" />
<line x1="972.9" y1="730.12" x2="979.1" y2="730.12" stroke="#000" stroke-width="2" />
<text x="969.5" y="736.92" font-size="18.8" font-weight="bold" text-anchor="end" >300</text>
<line x1="975" y1="738.35" x2="979.1" y2="738.35" stroke="#000" stroke-width="1.9" />
<line x1="975" y1="746.58" x2="979.1" y2="746.58" stroke="#000" stroke-width="1.9" />
<line x1="975" y1="754.81" x2="979.1" y2="754.81" stroke="#000" stroke-width="1.9" />
<line x1="975" y1="763.04" x2="979.1" y2="763.04" stroke="#000" stroke-width="1.9" />
<line x1="975" y1="771.26" x2="979.1" y2="771.26" stroke="#000" stroke-width="1.9" />
<line x1="975" y1="779.49" x2="979.1" y2="779.49" stroke="#000" stroke-width="1.9" />
<line x1="975" y1="787.72" x2="979.1" y2="787.72" stroke="#000" stroke-width="1.9" />
<line x1="975" y1="795.95" x2="979.1" y2="795.95" stroke="#000" stroke-width="1.9" />
<line x1="972.9" y1="804.18" x2="979.1" y2="804.18" stroke="#000" stroke-width="2" />
<text x="969.5" y="810.98" font-size="18.8" font-weight="bold" text-anchor="end" >200</text>
<line x1="975" y1="812.41" x2="979.1" y2="812.41" stroke="#000" stroke-width="1.9" />
<line x1="975" y1="820.64" x2="979.1" y2="820.64" stroke="#000" stroke-width="1.9" />
<line x1="975" y1="828.87" x2="979.1" y2="828.87" stroke="#000" stroke-width="1.9" />
<line x1="975" y1="837.1" x2="979.1" y2="837.1" stroke="#000" stroke-width="1.9" />
<line x1="975" y1="845.32" x2="979.1" y2="845.32" stroke="#000" stroke-width="1.9" />
<line x1="975" y1="853.55" x2="979.1" y2="853.55" stroke="#000" stroke-width="1.9" />
<line x1="975" y1="861.78" x2="979.1" y2="861.78" stroke="#000" stroke-width="1.9" />
<line x1="975" y1="870.01" x2="979.1" y2="870.01" stroke="#000" stroke-width="1.9" />
<line x1="972.9" y1="878.24" x2="979.1" y2="878.24" stroke="#000" stroke-width="2" />
<text x="969.5" y="885.04" font-size="18.8" font-weight="bold" text-anchor="end" >100</text>
<line x1="975" y1="886.47" x2="979.1" y2="886.47" stroke="#000" stroke-width="1.9" />
<line x1="975" y1="894.7" x2="979.1" y2="894.7" stroke="#000" stroke-width="1.9" />
<line x1="975" y1="902.93" x2="979.1" y2="902.93" stroke="#000" stroke-width="1.9" />
<line x1="975" y1="911.16" x2="979.1" y2="911.16" stroke="#000" stroke-width="1.9" />
<line x1="975" y1="919.38" x2="979.1" y2="919.38" stroke="#000" stroke-width="1.9" />
<line x1="975" y1="927.61" x2="979.1" y2="927.61" stroke="#000" stroke-width="1.9" />
<line x1="975" y1="935.84" x2="979.1" y2="935.84" stroke="#000" stroke-width="1.9" />
<line x1="975" y1="944.07" x2="979.1" y2="944.07" stroke="#000" stroke-width="1.9" />
<line x1="972.9" y1="952.3" x2="979.1" y2="952.3" stroke="#000" stroke-width="2" />
<text x="969.5" y="959.1" font-size="18.8" font-weight="bold" text-anchor="end" >0</text>
<path d="M1089.2 675.2 L1310.3 704.3" fill="none" stroke="#111" stroke-width="1.45"/>
<path d="M1089.2 707.8 L1310.3 707.6" fill="none" stroke="#111" stroke-width="1.45"/>
<path d="M1089.2 730 L1310.3 711.2" fill="none" stroke="#111" stroke-width="1.45"/>
<path d="M1089.2 793.7 L1310.3 952.3" fill="none" stroke="#111" stroke-width="1.45"/>
<path d="M1089.2 809.1 L1310.3 725.5" fill="none" stroke="#111" stroke-width="1.45"/>
<path d="M1089.2 811.4 L1310.3 810 L1531.4 813.1" fill="none" stroke="#111" stroke-width="1.45"/>
<path d="M1089.2 831.2 L1310.3 846.5 L1531.4 820" fill="none" stroke="#111" stroke-width="1.45"/>
<path d="M1089.2 890.1 L1310.3 872.5" fill="none" stroke="#111" stroke-width="1.45"/>
<path d="M1089.2 893 L1310.3 889" fill="none" stroke="#111" stroke-width="1.45"/>
<path d="M1089.2 897.5 L1310.3 850.8" fill="none" stroke="#111" stroke-width="1.45"/>
<path d="M1089.2 901.6 L1310.3 883.2 L1531.4 892.4" fill="none" stroke="#111" stroke-width="1.45"/>
<path d="M1089.2 903.3 L1310.3 902.1" fill="none" stroke="#111" stroke-width="1.45"/>
<path d="M1089.2 917.6 L1310.3 850.5" fill="none" stroke="#111" stroke-width="1.45"/>
<path d="M1089.2 952.3 L1310.3 796.7 L1531.4 856.9" fill="none" stroke="#111" stroke-width="1.45"/>
<path d="M1089.2 952.3 L1310.3 836.8 L1531.4 859" fill="none" stroke="#111" stroke-width="1.45"/>
<path d="M1089.2 952.3 L1310.3 854.7 L1531.4 859.2" fill="none" stroke="#111" stroke-width="1.45"/>
<circle cx="1089.2" cy="675.2" r="3.7"/>
<circle cx="1310.3" cy="704.3" r="3.7"/>
<circle cx="1089.2" cy="707.8" r="3.7"/>
<circle cx="1310.3" cy="707.6" r="3.7"/>
<circle cx="1089.2" cy="730" r="3.7"/>
<circle cx="1310.3" cy="711.2" r="3.7"/>
<circle cx="1089.2" cy="793.7" r="3.7"/>
<circle cx="1310.3" cy="952.3" r="3.7"/>
<circle cx="1089.2" cy="809.1" r="3.7"/>
<circle cx="1310.3" cy="725.5" r="3.7"/>
<circle cx="1089.2" cy="811.4" r="3.7"/>
<circle cx="1310.3" cy="810" r="3.7"/>
<circle cx="1531.4" cy="813.1" r="3.7"/>
<circle cx="1089.2" cy="831.2" r="3.7"/>
<circle cx="1310.3" cy="846.5" r="3.7"/>
<circle cx="1531.4" cy="820" r="3.7"/>
<circle cx="1089.2" cy="890.1" r="3.7"/>
<circle cx="1310.3" cy="872.5" r="3.7"/>
<circle cx="1089.2" cy="893" r="3.7"/>
<circle cx="1310.3" cy="889" r="3.7"/>
<circle cx="1089.2" cy="897.5" r="3.7"/>
<circle cx="1310.3" cy="850.8" r="3.7"/>
<circle cx="1089.2" cy="901.6" r="3.7"/>
<circle cx="1310.3" cy="883.2" r="3.7"/>
<circle cx="1531.4" cy="892.4" r="3.7"/>
<circle cx="1089.2" cy="903.3" r="3.7"/>
<circle cx="1310.3" cy="902.1" r="3.7"/>
<circle cx="1089.2" cy="917.6" r="3.7"/>
<circle cx="1310.3" cy="850.5" r="3.7"/>
<circle cx="1089.2" cy="952.3" r="3.7"/>
<circle cx="1310.3" cy="796.7" r="3.7"/>
<circle cx="1531.4" cy="856.9" r="3.7"/>
<circle cx="1089.2" cy="952.3" r="3.7"/>
<circle cx="1310.3" cy="836.8" r="3.7"/>
<circle cx="1531.4" cy="859" r="3.7"/>
<circle cx="1089.2" cy="952.3" r="3.7"/>
<circle cx="1310.3" cy="854.7" r="3.7"/>
<circle cx="1531.4" cy="859.2" r="3.7"/>
<line x1="1089.2" y1="618.2" x2="1309" y2="618.2" stroke="#4d4d4d" stroke-width="1.3" />
<line x1="1089.2" y1="613" x2="1089.2" y2="623.4" stroke="#4d4d4d" stroke-width="1.3" />
<line x1="1309" y1="613" x2="1309" y2="623.4" stroke="#4d4d4d" stroke-width="1.3" />
<line x1="1315.4" y1="618.2" x2="1534" y2="618.2" stroke="#111" stroke-width="1.6" />
<line x1="1315.4" y1="613" x2="1315.4" y2="623.4" stroke="#111" stroke-width="1.6" />
<line x1="1534" y1="613" x2="1534" y2="623.4" stroke="#111" stroke-width="1.6" />
<line x1="1089.2" y1="650" x2="1534" y2="650" stroke="#111" stroke-width="1.6" />
<line x1="1089.2" y1="644.8" x2="1089.2" y2="655.2" stroke="#111" stroke-width="1.6" />
<line x1="1534" y1="644.8" x2="1534" y2="655.2" stroke="#111" stroke-width="1.6" />
<text x="1201.2" y="615.7" font-size="23.2" font-weight="normal" text-anchor="middle" textLength="43" lengthAdjust="spacing">NSD</text>
<text x="1442" y="615.7" font-size="23.2" font-weight="normal" text-anchor="middle" textLength="43" lengthAdjust="spacing">NSD</text>
<text x="1313" y="647.7" font-size="23.2" font-weight="normal" text-anchor="middle" textLength="43" lengthAdjust="spacing">NSD</text>
<text x="1089.2" y="981.3" font-size="22.6" font-weight="bold" text-anchor="middle" >Post ChAd63 1</text>
<text x="1310.3" y="981.3" font-size="22.6" font-weight="bold" text-anchor="middle" >Post ChAd63 2</text>
<text x="1531.4" y="981.3" font-size="22.6" font-weight="bold" text-anchor="middle" >Post ChAd63 3</text>
</g>
<g id="panelE">
<text x="50.3" y="1365.8" font-size="21.9" font-weight="bold" text-anchor="middle" transform="rotate(-90 50.3 1365.8)" xml:space="preserve">TRAP antibody titre /EU</text>
<line x1="225.2" y1="1553" x2="225.2" y2="1559.2" stroke="#000" stroke-width="2" />
<line x1="446.3" y1="1553" x2="446.3" y2="1559.2" stroke="#000" stroke-width="2" />
<line x1="667.4" y1="1553" x2="667.4" y2="1559.2" stroke="#000" stroke-width="2" />
<path d="M115 1182H778.5V1553" fill="none" stroke="#000" stroke-width="1.9"/>
<path d="M115 1181.05V1553H779.45" fill="none" stroke="#000" stroke-width="2.1"/>
<line x1="108.8" y1="1182" x2="115" y2="1182" stroke="#000" stroke-width="2" />
<text x="105.4" y="1188.8" font-size="18.8" font-weight="bold" text-anchor="end" >4000</text>
<line x1="110.9" y1="1192.31" x2="115" y2="1192.31" stroke="#000" stroke-width="1.9" />
<line x1="110.9" y1="1202.61" x2="115" y2="1202.61" stroke="#000" stroke-width="1.9" />
<line x1="110.9" y1="1212.92" x2="115" y2="1212.92" stroke="#000" stroke-width="1.9" />
<line x1="110.9" y1="1223.22" x2="115" y2="1223.22" stroke="#000" stroke-width="1.9" />
<line x1="110.9" y1="1233.53" x2="115" y2="1233.53" stroke="#000" stroke-width="1.9" />
<line x1="110.9" y1="1243.83" x2="115" y2="1243.83" stroke="#000" stroke-width="1.9" />
<line x1="110.9" y1="1254.14" x2="115" y2="1254.14" stroke="#000" stroke-width="1.9" />
<line x1="110.9" y1="1264.44" x2="115" y2="1264.44" stroke="#000" stroke-width="1.9" />
<line x1="108.8" y1="1274.75" x2="115" y2="1274.75" stroke="#000" stroke-width="2" />
<text x="105.4" y="1281.55" font-size="18.8" font-weight="bold" text-anchor="end" >3000</text>
<line x1="110.9" y1="1285.06" x2="115" y2="1285.06" stroke="#000" stroke-width="1.9" />
<line x1="110.9" y1="1295.36" x2="115" y2="1295.36" stroke="#000" stroke-width="1.9" />
<line x1="110.9" y1="1305.67" x2="115" y2="1305.67" stroke="#000" stroke-width="1.9" />
<line x1="110.9" y1="1315.97" x2="115" y2="1315.97" stroke="#000" stroke-width="1.9" />
<line x1="110.9" y1="1326.28" x2="115" y2="1326.28" stroke="#000" stroke-width="1.9" />
<line x1="110.9" y1="1336.58" x2="115" y2="1336.58" stroke="#000" stroke-width="1.9" />
<line x1="110.9" y1="1346.89" x2="115" y2="1346.89" stroke="#000" stroke-width="1.9" />
<line x1="110.9" y1="1357.19" x2="115" y2="1357.19" stroke="#000" stroke-width="1.9" />
<line x1="108.8" y1="1367.5" x2="115" y2="1367.5" stroke="#000" stroke-width="2" />
<text x="105.4" y="1374.3" font-size="18.8" font-weight="bold" text-anchor="end" >2000</text>
<line x1="110.9" y1="1377.81" x2="115" y2="1377.81" stroke="#000" stroke-width="1.9" />
<line x1="110.9" y1="1388.11" x2="115" y2="1388.11" stroke="#000" stroke-width="1.9" />
<line x1="110.9" y1="1398.42" x2="115" y2="1398.42" stroke="#000" stroke-width="1.9" />
<line x1="110.9" y1="1408.72" x2="115" y2="1408.72" stroke="#000" stroke-width="1.9" />
<line x1="110.9" y1="1419.03" x2="115" y2="1419.03" stroke="#000" stroke-width="1.9" />
<line x1="110.9" y1="1429.33" x2="115" y2="1429.33" stroke="#000" stroke-width="1.9" />
<line x1="110.9" y1="1439.64" x2="115" y2="1439.64" stroke="#000" stroke-width="1.9" />
<line x1="110.9" y1="1449.94" x2="115" y2="1449.94" stroke="#000" stroke-width="1.9" />
<line x1="108.8" y1="1460.25" x2="115" y2="1460.25" stroke="#000" stroke-width="2" />
<text x="105.4" y="1467.05" font-size="18.8" font-weight="bold" text-anchor="end" >1000</text>
<line x1="110.9" y1="1470.56" x2="115" y2="1470.56" stroke="#000" stroke-width="1.9" />
<line x1="110.9" y1="1480.86" x2="115" y2="1480.86" stroke="#000" stroke-width="1.9" />
<line x1="110.9" y1="1491.17" x2="115" y2="1491.17" stroke="#000" stroke-width="1.9" />
<line x1="110.9" y1="1501.47" x2="115" y2="1501.47" stroke="#000" stroke-width="1.9" />
<line x1="110.9" y1="1511.78" x2="115" y2="1511.78" stroke="#000" stroke-width="1.9" />
<line x1="110.9" y1="1522.08" x2="115" y2="1522.08" stroke="#000" stroke-width="1.9" />
<line x1="110.9" y1="1532.39" x2="115" y2="1532.39" stroke="#000" stroke-width="1.9" />
<line x1="110.9" y1="1542.69" x2="115" y2="1542.69" stroke="#000" stroke-width="1.9" />
<line x1="108.8" y1="1553" x2="115" y2="1553" stroke="#000" stroke-width="2" />
<text x="105.4" y="1559.8" font-size="18.8" font-weight="bold" text-anchor="end" >0</text>
<path d="M225.2 1271.7 L446.3 1347.6" fill="none" stroke="#111" stroke-width="1.45"/>
<path d="M225.2 1299.8 L446.3 1369.9" fill="none" stroke="#111" stroke-width="1.45"/>
<path d="M225.2 1325.9 L446.3 1391.8" fill="none" stroke="#111" stroke-width="1.45"/>
<path d="M225.2 1341 L446.3 1448.2" fill="none" stroke="#111" stroke-width="1.45"/>
<path d="M225.2 1375 L446.3 1503.9 L667.4 1464.1" fill="none" stroke="#111" stroke-width="1.45"/>
<path d="M225.2 1446 L446.3 1474.4 L667.4 1483.7" fill="none" stroke="#111" stroke-width="1.45"/>
<path d="M225.2 1482.1 L446.3 1474" fill="none" stroke="#111" stroke-width="1.45"/>
<path d="M225.2 1488.9 L446.3 1504.3 L667.4 1510" fill="none" stroke="#111" stroke-width="1.45"/>
<path d="M225.2 1494.9 L446.3 1524.5" fill="none" stroke="#111" stroke-width="1.45"/>
<path d="M225.2 1510.2 L446.3 1509.5" fill="none" stroke="#111" stroke-width="1.45"/>
<path d="M225.2 1515.4 L446.3 1529.6" fill="none" stroke="#111" stroke-width="1.45"/>
<path d="M225.2 1523.9 L446.3 1525" fill="none" stroke="#111" stroke-width="1.45"/>
<path d="M225.2 1529.1 L446.3 1534.8 L667.4 1536.2" fill="none" stroke="#111" stroke-width="1.45"/>
<path d="M225.2 1529.6 L446.3 1553" fill="none" stroke="#111" stroke-width="1.45"/>
<path d="M225.2 1533.6 L446.3 1532.5" fill="none" stroke="#111" stroke-width="1.45"/>
<path d="M225.2 1538.2 L446.3 1491.8 L667.4 1401.5" fill="none" stroke="#111" stroke-width="1.45"/>
<path d="M446.3 1463.1 L667.4 1468.8" fill="none" stroke="#111" stroke-width="1.45"/>
<circle cx="225.2" cy="1271.7" r="3.7"/>
<circle cx="446.3" cy="1347.6" r="3.7"/>
<circle cx="225.2" cy="1299.8" r="3.7"/>
<circle cx="446.3" cy="1369.9" r="3.7"/>
<circle cx="225.2" cy="1325.9" r="3.7"/>
<circle cx="446.3" cy="1391.8" r="3.7"/>
<circle cx="225.2" cy="1341" r="3.7"/>
<circle cx="446.3" cy="1448.2" r="3.7"/>
<circle cx="225.2" cy="1375" r="3.7"/>
<circle cx="446.3" cy="1503.9" r="3.7"/>
<circle cx="667.4" cy="1464.1" r="3.7"/>
<circle cx="225.2" cy="1446" r="3.7"/>
<circle cx="446.3" cy="1474.4" r="3.7"/>
<circle cx="667.4" cy="1483.7" r="3.7"/>
<circle cx="225.2" cy="1482.1" r="3.7"/>
<circle cx="446.3" cy="1474" r="3.7"/>
<circle cx="225.2" cy="1488.9" r="3.7"/>
<circle cx="446.3" cy="1504.3" r="3.7"/>
<circle cx="667.4" cy="1510" r="3.7"/>
<circle cx="225.2" cy="1494.9" r="3.7"/>
<circle cx="446.3" cy="1524.5" r="3.7"/>
<circle cx="225.2" cy="1510.2" r="3.7"/>
<circle cx="446.3" cy="1509.5" r="3.7"/>
<circle cx="225.2" cy="1515.4" r="3.7"/>
<circle cx="446.3" cy="1529.6" r="3.7"/>
<circle cx="225.2" cy="1523.9" r="3.7"/>
<circle cx="446.3" cy="1525" r="3.7"/>
<circle cx="225.2" cy="1529.1" r="3.7"/>
<circle cx="446.3" cy="1534.8" r="3.7"/>
<circle cx="667.4" cy="1536.2" r="3.7"/>
<circle cx="225.2" cy="1529.6" r="3.7"/>
<circle cx="446.3" cy="1553" r="3.7"/>
<circle cx="225.2" cy="1533.6" r="3.7"/>
<circle cx="446.3" cy="1532.5" r="3.7"/>
<circle cx="225.2" cy="1538.2" r="3.7"/>
<circle cx="446.3" cy="1491.8" r="3.7"/>
<circle cx="667.4" cy="1401.5" r="3.7"/>
<circle cx="225.2" cy="1553" r="3.7"/>
<circle cx="446.3" cy="1463.1" r="3.7"/>
<circle cx="667.4" cy="1468.8" r="3.7"/>
<line x1="225.1" y1="1219.2" x2="445.1" y2="1219.2" stroke="#111" stroke-width="1.6" />
<line x1="225.1" y1="1214" x2="225.1" y2="1224.4" stroke="#111" stroke-width="1.6" />
<line x1="445.1" y1="1214" x2="445.1" y2="1224.4" stroke="#111" stroke-width="1.6" />
<line x1="451.7" y1="1219.2" x2="670.2" y2="1219.2" stroke="#4d4d4d" stroke-width="1.3" />
<line x1="451.7" y1="1214" x2="451.7" y2="1224.4" stroke="#4d4d4d" stroke-width="1.3" />
<line x1="670.2" y1="1214" x2="670.2" y2="1224.4" stroke="#4d4d4d" stroke-width="1.3" />
<line x1="225.1" y1="1250.8" x2="670.2" y2="1250.8" stroke="#4d4d4d" stroke-width="1.3" />
<line x1="225.1" y1="1245.6" x2="225.1" y2="1256" stroke="#4d4d4d" stroke-width="1.3" />
<line x1="670.2" y1="1245.6" x2="670.2" y2="1256" stroke="#4d4d4d" stroke-width="1.3" />
<text x="337.9" y="1219.3" font-size="20.5" font-weight="normal" text-anchor="middle" >*</text>
<text x="578.3" y="1215.8" font-size="23.2" font-weight="normal" text-anchor="middle" textLength="43" lengthAdjust="spacing">NSD</text>
<text x="449.4" y="1247.8" font-size="23.2" font-weight="normal" text-anchor="middle" textLength="43" lengthAdjust="spacing">NSD</text>
<text x="224.4" y="1582.4" font-size="22.4" font-weight="bold" text-anchor="middle" >Post MVA 1</text>
<text x="445.5" y="1582.4" font-size="22.4" font-weight="bold" text-anchor="middle" >Post MVA 2</text>
<text x="666.6" y="1582.4" font-size="22.4" font-weight="bold" text-anchor="middle" >Post MVA 3</text>
</g>
<g id="panelF">
<text x="881" y="1366.2" font-size="22.55" font-weight="bold" text-anchor="middle" transform="rotate(-90 881 1366.2)" xml:space="preserve">TRAP antibody titre 24 weeks post</text>
<text x="907.8" y="1365.5" font-size="21.98" font-weight="bold" text-anchor="middle" transform="rotate(-90 907.8 1365.5)" xml:space="preserve">final MVA ME-TRAP /EU</text>
<line x1="1025.8" y1="1552.8" x2="1025.8" y2="1559" stroke="#000" stroke-width="2" />
<line x1="1120.6" y1="1552.8" x2="1120.6" y2="1559" stroke="#000" stroke-width="2" />
<line x1="1215.3" y1="1552.8" x2="1215.3" y2="1559" stroke="#000" stroke-width="2" />
<line x1="1310" y1="1552.8" x2="1310" y2="1559" stroke="#000" stroke-width="2" />
<line x1="1404.7" y1="1552.8" x2="1404.7" y2="1559" stroke="#000" stroke-width="2" />
<line x1="1499.4" y1="1552.8" x2="1499.4" y2="1559" stroke="#000" stroke-width="2" />
<line x1="1594.2" y1="1552.8" x2="1594.2" y2="1559" stroke="#000" stroke-width="2" />
<path d="M979.1 1182H1642.2V1552.8" fill="none" stroke="#000" stroke-width="1.9"/>
<path d="M979.1 1181.05V1552.8H1643.15" fill="none" stroke="#000" stroke-width="2.1"/>
<line x1="972.9" y1="1182" x2="979.1" y2="1182" stroke="#000" stroke-width="2" />
<text x="969.5" y="1188.8" font-size="18.8" font-weight="bold" text-anchor="end" >10000</text>
<line x1="975" y1="1246.79" x2="979.1" y2="1246.79" stroke="#000" stroke-width="1.8" />
<line x1="975" y1="1230.47" x2="979.1" y2="1230.47" stroke="#000" stroke-width="1.8" />
<line x1="975" y1="1218.89" x2="979.1" y2="1218.89" stroke="#000" stroke-width="1.8" />
<line x1="975" y1="1209.91" x2="979.1" y2="1209.91" stroke="#000" stroke-width="1.8" />
<line x1="975" y1="1202.57" x2="979.1" y2="1202.57" stroke="#000" stroke-width="1.8" />
<line x1="975" y1="1196.36" x2="979.1" y2="1196.36" stroke="#000" stroke-width="1.8" />
<line x1="975" y1="1190.98" x2="979.1" y2="1190.98" stroke="#000" stroke-width="1.8" />
<line x1="975" y1="1186.24" x2="979.1" y2="1186.24" stroke="#000" stroke-width="1.8" />
<line x1="972.9" y1="1274.7" x2="979.1" y2="1274.7" stroke="#000" stroke-width="2" />
<text x="969.5" y="1281.5" font-size="18.8" font-weight="bold" text-anchor="end" >1000</text>
<line x1="975" y1="1339.49" x2="979.1" y2="1339.49" stroke="#000" stroke-width="1.8" />
<line x1="975" y1="1323.17" x2="979.1" y2="1323.17" stroke="#000" stroke-width="1.8" />
<line x1="975" y1="1311.59" x2="979.1" y2="1311.59" stroke="#000" stroke-width="1.8" />
<line x1="975" y1="1302.61" x2="979.1" y2="1302.61" stroke="#000" stroke-width="1.8" />
<line x1="975" y1="1295.27" x2="979.1" y2="1295.27" stroke="#000" stroke-width="1.8" />
<line x1="975" y1="1289.06" x2="979.1" y2="1289.06" stroke="#000" stroke-width="1.8" />
<line x1="975" y1="1283.68" x2="979.1" y2="1283.68" stroke="#000" stroke-width="1.8" />
<line x1="975" y1="1278.94" x2="979.1" y2="1278.94" stroke="#000" stroke-width="1.8" />
<line x1="972.9" y1="1367.4" x2="979.1" y2="1367.4" stroke="#000" stroke-width="2" />
<text x="969.5" y="1374.2" font-size="18.8" font-weight="bold" text-anchor="end" >100</text>
<line x1="975" y1="1432.19" x2="979.1" y2="1432.19" stroke="#000" stroke-width="1.8" />
<line x1="975" y1="1415.87" x2="979.1" y2="1415.87" stroke="#000" stroke-width="1.8" />
<line x1="975" y1="1404.29" x2="979.1" y2="1404.29" stroke="#000" stroke-width="1.8" />
<line x1="975" y1="1395.31" x2="979.1" y2="1395.31" stroke="#000" stroke-width="1.8" />
<line x1="975" y1="1387.97" x2="979.1" y2="1387.97" stroke="#000" stroke-width="1.8" />
<line x1="975" y1="1381.76" x2="979.1" y2="1381.76" stroke="#000" stroke-width="1.8" />
<line x1="975" y1="1376.38" x2="979.1" y2="1376.38" stroke="#000" stroke-width="1.8" />
<line x1="975" y1="1371.64" x2="979.1" y2="1371.64" stroke="#000" stroke-width="1.8" />
<line x1="972.9" y1="1460.1" x2="979.1" y2="1460.1" stroke="#000" stroke-width="2" />
<text x="969.5" y="1466.9" font-size="18.8" font-weight="bold" text-anchor="end" >10</text>
<line x1="975" y1="1524.89" x2="979.1" y2="1524.89" stroke="#000" stroke-width="1.8" />
<line x1="975" y1="1508.57" x2="979.1" y2="1508.57" stroke="#000" stroke-width="1.8" />
<line x1="975" y1="1496.99" x2="979.1" y2="1496.99" stroke="#000" stroke-width="1.8" />
<line x1="975" y1="1488.01" x2="979.1" y2="1488.01" stroke="#000" stroke-width="1.8" />
<line x1="975" y1="1480.67" x2="979.1" y2="1480.67" stroke="#000" stroke-width="1.8" />
<line x1="975" y1="1474.46" x2="979.1" y2="1474.46" stroke="#000" stroke-width="1.8" />
<line x1="975" y1="1469.08" x2="979.1" y2="1469.08" stroke="#000" stroke-width="1.8" />
<line x1="975" y1="1464.34" x2="979.1" y2="1464.34" stroke="#000" stroke-width="1.8" />
<line x1="972.9" y1="1552.8" x2="979.1" y2="1552.8" stroke="#000" stroke-width="2" />
<text x="969.5" y="1559.6" font-size="18.8" font-weight="bold" text-anchor="end" >1</text>
<path d="M1011.7 1312.6L1016.7 1322.9H1006.7Z"/>
<path d="M1040.2 1320.7L1045.2 1331H1035.2Z"/>
<path d="M1025.8 1326.3L1030.8 1336.6H1020.8Z"/>
<path d="M1018.8 1366.7L1023.8 1377H1013.8Z"/>
<path d="M1032.9 1376.5L1037.9 1386.8H1027.9Z"/>
<path d="M1025.8 1403.1L1030.8 1413.4H1020.8Z"/>
<path d="M1010.7 1323.4H1041.2M1010.7 1386.6H1041.2M1025.8 1323.4V1386.6" fill="none" stroke="#5a5a5a" stroke-width="1.15" stroke-opacity="0.8"/>
<line x1="994.5" y1="1345.9" x2="1057.4" y2="1345.9" stroke="#0a0a0a" stroke-width="1.5" />
<path d="M1120.6 1278.3L1125.6 1288.6H1115.6Z"/>
<path d="M1127.6 1285.4L1132.6 1295.7H1122.6Z"/>
<path d="M1113.5 1299L1118.5 1309.3H1108.5Z"/>
<path d="M1120.6 1370.2L1125.6 1380.5H1115.6Z"/>
<path d="M1120.6 1547.3L1125.6 1557.6H1115.6Z"/>
<path d="M1105.4 1286.8H1136M1105.4 1402.3H1136M1120.6 1286.8V1402.3" fill="none" stroke="#5a5a5a" stroke-width="1.15" stroke-opacity="0.8"/>
<line x1="1089.2" y1="1303.7" x2="1152.1" y2="1303.7" stroke="#0a0a0a" stroke-width="1.5" />
<path d="M1215.3 1303L1220.3 1313.3H1210.3Z"/>
<path d="M1222.4 1363.7L1227.4 1374H1217.4Z"/>
<path d="M1201.1 1372.5L1206.1 1382.8H1196.1Z"/>
<path d="M1208.2 1386.9L1213.2 1397.2H1203.2Z"/>
<path d="M1222.4 1389.9L1227.4 1400.2H1217.4Z"/>
<path d="M1215.3 1547.3L1220.3 1557.6H1210.3Z"/>
<path d="M1199.9 1343.1H1230.7M1199.9 1406H1230.7M1215.3 1343.1V1406" fill="none" stroke="#5a5a5a" stroke-width="1.15" stroke-opacity="0.8"/>
<line x1="1184" y1="1384.1" x2="1246.8" y2="1384.1" stroke="#0a0a0a" stroke-width="1.5" />
<path d="M1317.1 1317.9L1322.1 1328.2H1312.1Z"/>
<path d="M1302.9 1330.8L1307.9 1341.1H1297.9Z"/>
<path d="M1295.8 1344.5L1300.8 1354.8H1290.8Z"/>
<path d="M1324.1 1341.9L1329.1 1352.2H1319.1Z"/>
<path d="M1310 1351L1315 1361.3H1305Z"/>
<path d="M1310 1547.3L1315 1557.6H1305Z"/>
<path d="M1294.6 1332H1325.4M1294.6 1367.4H1325.4M1310 1332V1367.4" fill="none" stroke="#5a5a5a" stroke-width="1.15" stroke-opacity="0.8"/>
<line x1="1278.4" y1="1348.2" x2="1341.6" y2="1348.2" stroke="#0a0a0a" stroke-width="1.5" />
<path d="M1404.7 1263.1L1409.7 1273.4H1399.7Z"/>
<path d="M1404.7 1316.7L1409.7 1327H1399.7Z"/>
<path d="M1397.6 1338.1L1402.6 1348.4H1392.6Z"/>
<path d="M1411.8 1350.8L1416.8 1361.1H1406.8Z"/>
<path d="M1404.7 1375L1409.7 1385.3H1399.7Z"/>
<path d="M1389.6 1286.6H1419.9M1389.6 1366.1H1419.9M1404.7 1286.6V1366.1" fill="none" stroke="#5a5a5a" stroke-width="1.15" stroke-opacity="0.8"/>
<line x1="1373.4" y1="1342.9" x2="1436.3" y2="1342.9" stroke="#0a0a0a" stroke-width="1.5" />
<path d="M1506.5 1334.1L1511.5 1344.4H1501.5Z"/>
<path d="M1492.4 1344.7L1497.4 1355H1487.4Z"/>
<path d="M1492.4 1363.4L1497.4 1373.7H1487.4Z"/>
<path d="M1513.6 1370.5L1518.6 1380.8H1508.6Z"/>
<path d="M1506.5 1377L1511.5 1387.3H1501.5Z"/>
<path d="M1492.4 1390.9L1497.4 1401.2H1487.4Z"/>
<path d="M1484.3 1346.9H1514.6M1484.3 1384.6H1514.6M1499.4 1346.9V1384.6" fill="none" stroke="#5a5a5a" stroke-width="1.15" stroke-opacity="0.8"/>
<line x1="1468.1" y1="1371.7" x2="1531" y2="1371.7" stroke="#0a0a0a" stroke-width="1.5" />
<path d="M1594.2 1332.1L1599.2 1342.4H1589.2Z"/>
<path d="M1594.2 1349L1599.2 1359.3H1589.2Z"/>
<path d="M1587.1 1369.2L1592.1 1379.5H1582.1Z"/>
<path d="M1601.2 1374.8L1606.2 1385.1H1596.2Z"/>
<path d="M1594.2 1547.3L1599.2 1557.6H1589.2Z"/>
<path d="M1579 1344.7H1609.3M1579 1406.5H1609.3M1594.2 1344.7V1406.5" fill="none" stroke="#5a5a5a" stroke-width="1.15" stroke-opacity="0.8"/>
<line x1="1562.9" y1="1374.2" x2="1625.8" y2="1374.2" stroke="#0a0a0a" stroke-width="1.5" />
<text x="1032.4" y="1577.1" font-size="19.5" font-weight="bold" text-anchor="end" transform="rotate(-45 1032.4 1577.1)">AAA_M</text>
<text x="1127.2" y="1577.1" font-size="19.5" font-weight="bold" text-anchor="end" transform="rotate(-45 1127.2 1577.1)">A_A_M_M</text>
<text x="1221.9" y="1577.1" font-size="19.5" font-weight="bold" text-anchor="end" transform="rotate(-45 1221.9 1577.1)">AAMM</text>
<text x="1316.6" y="1577.1" font-size="19.5" font-weight="bold" text-anchor="end" transform="rotate(-45 1316.6 1577.1)">A_M_M_M</text>
<text x="1411.3" y="1577.1" font-size="19.5" font-weight="bold" text-anchor="end" transform="rotate(-45 1411.3 1577.1)">AMA_M</text>
<text x="1506" y="1577.1" font-size="19.5" font-weight="bold" text-anchor="end" transform="rotate(-45 1506 1577.1)">AMAM</text>
<text x="1600.8" y="1577.1" font-size="19.5" font-weight="bold" text-anchor="end" transform="rotate(-45 1600.8 1577.1)">A_M_A_M</text>
<text x="1334.6" y="1682.5" font-size="22.25" font-weight="bold" text-anchor="middle" >Vaccination regime</text>
</g>
<g id="panelG">
<text x="18.2" y="1939.5" font-size="22.25" font-weight="bold" text-anchor="middle" transform="rotate(-90 18.2 1939.5)" xml:space="preserve" textLength="95.5" lengthAdjust="spacingAndGlyphs">AUC/days</text>
<text x="45.5" y="1940.5" font-size="22.25" font-weight="bold" text-anchor="middle" transform="rotate(-90 45.5 1940.5)" xml:space="preserve" word-spacing="0.8">(Day 0 to 4 weeks post 1st MVA)</text>
<line x1="181.3" y1="2126.8" x2="181.3" y2="2133" stroke="#000" stroke-width="2" />
<line x1="313.8" y1="2126.8" x2="313.8" y2="2133" stroke="#000" stroke-width="2" />
<line x1="446.6" y1="2126.8" x2="446.6" y2="2133" stroke="#000" stroke-width="2" />
<line x1="579.2" y1="2126.8" x2="579.2" y2="2133" stroke="#000" stroke-width="2" />
<line x1="712.1" y1="2126.8" x2="712.1" y2="2133" stroke="#000" stroke-width="2" />
<rect x="139.05" y="2091.35" width="84.4" height="35.45" fill="url(#hatchG)"/>
<path d="M139.05 2126.8V2091.35H223.45V2126.8" fill="none" stroke="#808080" stroke-width="3.1"/>
<rect x="176.55" y="2008.05" width="9.7" height="9.7"/>
<rect x="176.55" y="2064.95" width="9.7" height="9.7"/>
<rect x="155.35" y="2086.15" width="9.7" height="9.7"/>
<rect x="197.75" y="2083.35" width="9.7" height="9.7"/>
<rect x="183.55" y="2091.65" width="9.7" height="9.7"/>
<rect x="169.45" y="2095.95" width="9.7" height="9.7"/>
<path d="M159.6 2055.1H202.8M159.6 2096.5H202.8M181.3 2055.1V2096.5" fill="none" stroke="#5a5a5a" stroke-width="1.15" stroke-opacity="0.8"/>
<rect x="271.65" y="2055.95" width="84.4" height="70.85" fill="url(#hatchG)"/>
<path d="M271.65 2126.8V2055.95H356.05V2126.8" fill="none" stroke="#808080" stroke-width="3.1"/>
<rect x="301.85" y="1956.25" width="9.7" height="9.7"/>
<rect x="315.95" y="1968.45" width="9.7" height="9.7"/>
<rect x="308.85" y="2026.05" width="9.7" height="9.7"/>
<rect x="301.85" y="2073.45" width="9.7" height="9.7"/>
<rect x="315.95" y="2082.35" width="9.7" height="9.7"/>
<rect x="308.85" y="2114.15" width="9.7" height="9.7"/>
<path d="M292.3 1969.7H335.5M292.3 2094.8H335.5M313.8 1969.7V2094.8" fill="none" stroke="#5a5a5a" stroke-width="1.15" stroke-opacity="0.8"/>
<rect x="404.25" y="2092.55" width="84.7" height="34.25" fill="url(#hatchG)"/>
<path d="M404.25 2126.8V2092.55H488.95V2126.8" fill="none" stroke="#808080" stroke-width="3.1"/>
<rect x="441.75" y="1935.55" width="9.7" height="9.7"/>
<rect x="441.75" y="2054.55" width="9.7" height="9.7"/>
<rect x="434.65" y="2083.85" width="9.7" height="9.7"/>
<rect x="455.95" y="2086.65" width="9.7" height="9.7"/>
<rect x="448.85" y="2099.05" width="9.7" height="9.7"/>
<rect x="434.65" y="2111.65" width="9.7" height="9.7"/>
<path d="M424.9 2029.6H468.1M424.9 2107.4H468.1M446.6 2029.6V2107.4" fill="none" stroke="#5a5a5a" stroke-width="1.15" stroke-opacity="0.8"/>
<rect x="537.15" y="2076.15" width="84.4" height="50.65" fill="url(#hatchG)"/>
<path d="M537.15 2126.8V2076.15H621.55V2126.8" fill="none" stroke="#808080" stroke-width="3.1"/>
<rect x="567.35" y="1999.75" width="9.7" height="9.7"/>
<rect x="581.45" y="1999.75" width="9.7" height="9.7"/>
<rect x="560.25" y="2045.15" width="9.7" height="9.7"/>
<rect x="588.55" y="2047.25" width="9.7" height="9.7"/>
<rect x="574.35" y="2050.25" width="9.7" height="9.7"/>
<rect x="567.35" y="2062.35" width="9.7" height="9.7"/>
<rect x="581.45" y="2075.75" width="9.7" height="9.7"/>
<rect x="546.05" y="2108.65" width="9.7" height="9.7"/>
<rect x="602.65" y="2110.35" width="9.7" height="9.7"/>
<rect x="560.25" y="2113.95" width="9.7" height="9.7"/>
<rect x="588.55" y="2115.45" width="9.7" height="9.7"/>
<rect x="574.35" y="2122.25" width="9.7" height="9.7"/>
<path d="M557.3 2050.8H601M557.3 2117.2H601M579.2 2050.8V2117.2" fill="none" stroke="#5a5a5a" stroke-width="1.15" stroke-opacity="0.8"/>
<rect x="669.75" y="2069.85" width="84.4" height="56.95" fill="url(#hatchG)"/>
<path d="M669.75 2126.8V2069.85H754.15V2126.8" fill="none" stroke="#808080" stroke-width="3.1"/>
<rect x="707.25" y="2005.75" width="9.7" height="9.7"/>
<rect x="707.25" y="2026.25" width="9.7" height="9.7"/>
<rect x="700.15" y="2043.15" width="9.7" height="9.7"/>
<rect x="721.35" y="2050.25" width="9.7" height="9.7"/>
<rect x="728.45" y="2055.85" width="9.7" height="9.7"/>
<rect x="686.05" y="2062.15" width="9.7" height="9.7"/>
<rect x="714.35" y="2063.65" width="9.7" height="9.7"/>
<rect x="700.15" y="2067.15" width="9.7" height="9.7"/>
<rect x="700.15" y="2088.35" width="9.7" height="9.7"/>
<rect x="714.35" y="2089.95" width="9.7" height="9.7"/>
<rect x="714.35" y="2106.55" width="9.7" height="9.7"/>
<rect x="700.15" y="2112.85" width="9.7" height="9.7"/>
<path d="M690.1 2050H733.6M690.1 2093.8H733.6M712.1 2050V2093.8" fill="none" stroke="#5a5a5a" stroke-width="1.15" stroke-opacity="0.8"/>
<path d="M115 1755.8H778.8V2126.8" fill="none" stroke="#000" stroke-width="1.9"/>
<path d="M115 1754.85V2126.8H779.75" fill="none" stroke="#000" stroke-width="2.1"/>
<line x1="108.8" y1="1755.8" x2="115" y2="1755.8" stroke="#000" stroke-width="2" />
<text x="105.4" y="1762.6" font-size="18.8" font-weight="bold" text-anchor="end" >1200</text>
<line x1="108.8" y1="1817.63" x2="115" y2="1817.63" stroke="#000" stroke-width="2" />
<text x="105.4" y="1824.43" font-size="18.8" font-weight="bold" text-anchor="end" >1000</text>
<line x1="108.8" y1="1879.47" x2="115" y2="1879.47" stroke="#000" stroke-width="2" />
<text x="105.4" y="1886.27" font-size="18.8" font-weight="bold" text-anchor="end" >800</text>
<line x1="108.8" y1="1941.3" x2="115" y2="1941.3" stroke="#000" stroke-width="2" />
<text x="105.4" y="1948.1" font-size="18.8" font-weight="bold" text-anchor="end" >600</text>
<line x1="108.8" y1="2003.13" x2="115" y2="2003.13" stroke="#000" stroke-width="2" />
<text x="105.4" y="2009.93" font-size="18.8" font-weight="bold" text-anchor="end" >400</text>
<line x1="108.8" y1="2064.97" x2="115" y2="2064.97" stroke="#000" stroke-width="2" />
<text x="105.4" y="2071.77" font-size="18.8" font-weight="bold" text-anchor="end" >200</text>
<line x1="108.8" y1="2126.8" x2="115" y2="2126.8" stroke="#000" stroke-width="2" />
<text x="105.4" y="2133.6" font-size="18.8" font-weight="bold" text-anchor="end" >0</text>
<rect x="574.35" y="2122.25" width="9.7" height="9.7"/>
<text x="181.3" y="2154" font-size="19.4" font-weight="bold" text-anchor="middle" >AAA_M</text>
<text x="313.8" y="2154" font-size="19.4" font-weight="bold" text-anchor="middle" >A_A_M</text>
<text x="446.6" y="2154" font-size="19.4" font-weight="bold" text-anchor="middle" >AAM</text>
<text x="579.2" y="2154" font-size="19.4" font-weight="bold" text-anchor="middle" >A_M</text>
<text x="712.1" y="2154" font-size="19.4" font-weight="bold" text-anchor="middle" >AM</text>
<text x="446.6" y="2208" font-size="22.25" font-weight="bold" text-anchor="middle" >Vaccination regime</text>
</g>
<g id="panelH">
<text x="900" y="1939.5" font-size="22.25" font-weight="bold" text-anchor="middle" transform="rotate(-90 900 1939.5)" xml:space="preserve" textLength="95.5" lengthAdjust="spacingAndGlyphs">AUC/days</text>
<text x="927.3" y="1937.3" font-size="22.25" font-weight="bold" text-anchor="middle" transform="rotate(-90 927.3 1937.3)" xml:space="preserve" word-spacing="0.8">(Day 0 to 4 weeks post final MVA)</text>
<line x1="1015.3" y1="2126.9" x2="1015.3" y2="2133.1" stroke="#000" stroke-width="2" />
<line x1="1088.7" y1="2126.9" x2="1088.7" y2="2133.1" stroke="#000" stroke-width="2" />
<line x1="1162.5" y1="2126.9" x2="1162.5" y2="2133.1" stroke="#000" stroke-width="2" />
<line x1="1236.1" y1="2126.9" x2="1236.1" y2="2133.1" stroke="#000" stroke-width="2" />
<line x1="1309.6" y1="2126.9" x2="1309.6" y2="2133.1" stroke="#000" stroke-width="2" />
<line x1="1383.2" y1="2126.9" x2="1383.2" y2="2133.1" stroke="#000" stroke-width="2" />
<line x1="1456.7" y1="2126.9" x2="1456.7" y2="2133.1" stroke="#000" stroke-width="2" />
<line x1="1530.2" y1="2126.9" x2="1530.2" y2="2133.1" stroke="#000" stroke-width="2" />
<line x1="1603.8" y1="2126.9" x2="1603.8" y2="2133.1" stroke="#000" stroke-width="2" />
<line x1="1493.8" y1="1755.8" x2="1493.8" y2="2126.9" stroke="#777" stroke-width="1.1" stroke-dasharray="1.3 2.4"/>
<rect x="992.55" y="2091.55" width="45.4" height="35.35" fill="url(#hatch)"/>
<path d="M992.55 2126.9V2091.55H1037.95V2126.9" fill="none" stroke="#808080" stroke-width="3.1"/>
<rect x="1010.45" y="2008.25" width="9.7" height="9.7"/>
<rect x="1010.45" y="2065.05" width="9.7" height="9.7"/>
<rect x="991.85" y="2086.55" width="9.7" height="9.7"/>
<rect x="1028.65" y="2082.75" width="9.7" height="9.7"/>
<rect x="1016.45" y="2091.65" width="9.7" height="9.7"/>
<rect x="1004.45" y="2095.95" width="9.7" height="9.7"/>
<path d="M1003.3 2055.5H1027.3M1003.3 2097.9H1027.3M1015.3 2055.5V2097.9" fill="none" stroke="#5a5a5a" stroke-width="1.15" stroke-opacity="0.8"/>
<rect x="1065.75" y="1952.15" width="45.6" height="174.75" fill="url(#hatch)"/>
<path d="M1065.75 2126.9V1952.15H1111.35V2126.9" fill="none" stroke="#808080" stroke-width="3.1"/>
<rect x="1083.85" y="1798.75" width="9.7" height="9.7"/>
<rect x="1083.85" y="1850.55" width="9.7" height="9.7"/>
<rect x="1083.85" y="1879.85" width="9.7" height="9.7"/>
<rect x="1083.95" y="2012.75" width="9.7" height="9.7"/>
<rect x="1083.95" y="2060.75" width="9.7" height="9.7"/>
<rect x="1083.95" y="2110.95" width="9.7" height="9.7"/>
<path d="M1076.9 1841.7H1100.6M1076.9 2077.6H1100.6M1088.7 1841.7V2077.6" fill="none" stroke="#5a5a5a" stroke-width="1.15" stroke-opacity="0.8"/>
<rect x="1139.35" y="2070.45" width="45.9" height="56.45" fill="url(#hatch)"/>
<path d="M1139.35 2126.9V2070.45H1185.25V2126.9" fill="none" stroke="#808080" stroke-width="3.1"/>
<rect x="1157.65" y="1850.75" width="9.7" height="9.7"/>
<rect x="1157.75" y="2047.55" width="9.7" height="9.7"/>
<rect x="1150.55" y="2058.15" width="9.7" height="9.7"/>
<rect x="1164.55" y="2070.75" width="9.7" height="9.7"/>
<rect x="1164.55" y="2099.35" width="9.7" height="9.7"/>
<rect x="1150.55" y="2105.95" width="9.7" height="9.7"/>
<path d="M1150.6 2003.3H1174.6M1150.6 2106H1174.6M1162.5 2003.3V2106" fill="none" stroke="#5a5a5a" stroke-width="1.15" stroke-opacity="0.8"/>
<rect x="1213.35" y="2017.75" width="45.7" height="109.15" fill="url(#hatch)"/>
<path d="M1213.35 2126.9V2017.75H1259.05V2126.9" fill="none" stroke="#808080" stroke-width="3.1"/>
<rect x="1231.25" y="1948.85" width="9.7" height="9.7"/>
<rect x="1231.25" y="1993.35" width="9.7" height="9.7"/>
<rect x="1231.25" y="2007.25" width="9.7" height="9.7"/>
<rect x="1223.95" y="2015.25" width="9.7" height="9.7"/>
<rect x="1238.05" y="2028.15" width="9.7" height="9.7"/>
<rect x="1231.25" y="2079.35" width="9.7" height="9.7"/>
<path d="M1224 1986.8H1247.7M1224 2045.4H1247.7M1236.1 1986.8V2045.4" fill="none" stroke="#5a5a5a" stroke-width="1.15" stroke-opacity="0.8"/>
<rect x="1286.65" y="2025.55" width="45.7" height="101.35" fill="url(#hatch)"/>
<path d="M1286.65 2126.9V2025.55H1332.35V2126.9" fill="none" stroke="#808080" stroke-width="3.1"/>
<rect x="1304.65" y="1945.75" width="9.7" height="9.7"/>
<rect x="1304.65" y="2005.85" width="9.7" height="9.7"/>
<rect x="1311.85" y="2015.25" width="9.7" height="9.7"/>
<rect x="1297.65" y="2023.05" width="9.7" height="9.7"/>
<rect x="1304.65" y="2038.45" width="9.7" height="9.7"/>
<rect x="1304.65" y="2092.55" width="9.7" height="9.7"/>
<path d="M1297.9 1995.6H1321.4M1297.9 2057H1321.4M1309.6 1995.6V2057" fill="none" stroke="#5a5a5a" stroke-width="1.15" stroke-opacity="0.8"/>
<rect x="1360.35" y="2037.75" width="45.7" height="89.15" fill="url(#hatch)"/>
<path d="M1360.35 2126.9V2037.75H1406.05V2126.9" fill="none" stroke="#808080" stroke-width="3.1"/>
<rect x="1378.35" y="2005.85" width="9.7" height="9.7"/>
<rect x="1364.25" y="2029.05" width="9.7" height="9.7"/>
<rect x="1378.35" y="2031.55" width="9.7" height="9.7"/>
<rect x="1392.25" y="2030.35" width="9.7" height="9.7"/>
<rect x="1378.35" y="2052.55" width="9.7" height="9.7"/>
<rect x="1378.35" y="2086.05" width="9.7" height="9.7"/>
<path d="M1371.2 2028H1394.8M1371.2 2065.6H1394.8M1383.2 2028V2065.6" fill="none" stroke="#5a5a5a" stroke-width="1.15" stroke-opacity="0.8"/>
<rect x="1433.95" y="2062.75" width="45.2" height="64.15" fill="url(#hatch)"/>
<path d="M1433.95 2126.9V2062.75H1479.15V2126.9" fill="none" stroke="#808080" stroke-width="3.1"/>
<rect x="1451.95" y="1960.65" width="9.7" height="9.7"/>
<rect x="1451.95" y="2017.85" width="9.7" height="9.7"/>
<rect x="1451.95" y="2043.95" width="9.7" height="9.7"/>
<rect x="1444.95" y="2067.95" width="9.7" height="9.7"/>
<rect x="1459.05" y="2071.95" width="9.7" height="9.7"/>
<rect x="1451.95" y="2122.55" width="9.7" height="9.7"/>
<path d="M1445 2008.3H1468.7M1445 2089.3H1468.7M1456.7 2008.3V2089.3" fill="none" stroke="#5a5a5a" stroke-width="1.15" stroke-opacity="0.8"/>
<rect x="1507.45" y="2075.75" width="45.2" height="51.15" fill="url(#hatch)"/>
<path d="M1507.45 2126.9V2075.75H1552.65V2126.9" fill="none" stroke="#808080" stroke-width="3.1"/>
<rect x="1519.15" y="2000.35" width="9.5" height="9.5" fill="none" stroke="#000" stroke-width="3.1"/>
<rect x="1532.55" y="2000.35" width="9.5" height="9.5" fill="none" stroke="#000" stroke-width="3.1"/>
<rect x="1511.75" y="2046.35" width="9.5" height="9.5" fill="none" stroke="#000" stroke-width="3.1"/>
<rect x="1539.35" y="2047.55" width="9.5" height="9.5" fill="none" stroke="#000" stroke-width="3.1"/>
<rect x="1525.55" y="2050.15" width="9.5" height="9.5" fill="none" stroke="#000" stroke-width="3.1"/>
<rect x="1519.15" y="2063.25" width="9.5" height="9.5" fill="none" stroke="#000" stroke-width="3.1"/>
<rect x="1532.55" y="2076.25" width="9.5" height="9.5" fill="none" stroke="#000" stroke-width="3.1"/>
<rect x="1507.95" y="2109.15" width="9.5" height="9.5" fill="none" stroke="#000" stroke-width="3.1"/>
<rect x="1543.45" y="2110.45" width="9.5" height="9.5" fill="none" stroke="#000" stroke-width="3.1"/>
<rect x="1517.85" y="2113.05" width="9.5" height="9.5" fill="none" stroke="#000" stroke-width="3.1"/>
<rect x="1533.95" y="2115.35" width="9.5" height="9.5" fill="none" stroke="#000" stroke-width="3.1"/>
<rect x="1525.55" y="2122.95" width="9.5" height="9.5" fill="none" stroke="#000" stroke-width="3.1"/>
<path d="M1518.3 2051.1H1542.3M1518.3 2117.2H1542.3M1530.2 2051.1V2117.2" fill="none" stroke="#5a5a5a" stroke-width="1.15" stroke-opacity="0.8"/>
<rect x="1581.15" y="2070.05" width="45.4" height="56.85" fill="url(#hatch)"/>
<path d="M1581.15 2126.9V2070.05H1626.55V2126.9" fill="none" stroke="#808080" stroke-width="3.1"/>
<rect x="1599.15" y="2006.15" width="9.5" height="9.5" fill="none" stroke="#000" stroke-width="3.1"/>
<rect x="1599.15" y="2026.45" width="9.5" height="9.5" fill="none" stroke="#000" stroke-width="3.1"/>
<rect x="1592.25" y="2043.75" width="9.5" height="9.5" fill="none" stroke="#000" stroke-width="3.1"/>
<rect x="1606.05" y="2050.95" width="9.5" height="9.5" fill="none" stroke="#000" stroke-width="3.1"/>
<rect x="1617.55" y="2056.35" width="9.5" height="9.5" fill="none" stroke="#000" stroke-width="3.1"/>
<rect x="1580.75" y="2062.45" width="9.5" height="9.5" fill="none" stroke="#000" stroke-width="3.1"/>
<rect x="1606.05" y="2063.95" width="9.5" height="9.5" fill="none" stroke="#000" stroke-width="3.1"/>
<rect x="1592.25" y="2067.05" width="9.5" height="9.5" fill="none" stroke="#000" stroke-width="3.1"/>
<rect x="1592.25" y="2088.05" width="9.5" height="9.5" fill="none" stroke="#000" stroke-width="3.1"/>
<rect x="1606.05" y="2090.05" width="9.5" height="9.5" fill="none" stroke="#000" stroke-width="3.1"/>
<rect x="1606.05" y="2107.15" width="9.5" height="9.5" fill="none" stroke="#000" stroke-width="3.1"/>
<rect x="1592.25" y="2113.45" width="9.5" height="9.5" fill="none" stroke="#000" stroke-width="3.1"/>
<path d="M1591.8 2050H1615.8M1591.8 2093.8H1615.8M1603.8 2050V2093.8" fill="none" stroke="#5a5a5a" stroke-width="1.15" stroke-opacity="0.8"/>
<path d="M979.1 1755.8H1642.1V2126.9" fill="none" stroke="#000" stroke-width="1.9"/>
<path d="M979.1 1754.85V2126.9H1643.05" fill="none" stroke="#000" stroke-width="2.1"/>
<line x1="972.9" y1="1755.8" x2="979.1" y2="1755.8" stroke="#000" stroke-width="2" />
<text x="969.5" y="1762.6" font-size="18.8" font-weight="bold" text-anchor="end" >1200</text>
<line x1="972.9" y1="1817.65" x2="979.1" y2="1817.65" stroke="#000" stroke-width="2" />
<text x="969.5" y="1824.45" font-size="18.8" font-weight="bold" text-anchor="end" >1000</text>
<line x1="972.9" y1="1879.5" x2="979.1" y2="1879.5" stroke="#000" stroke-width="2" />
<text x="969.5" y="1886.3" font-size="18.8" font-weight="bold" text-anchor="end" >800</text>
<line x1="972.9" y1="1941.35" x2="979.1" y2="1941.35" stroke="#000" stroke-width="2" />
<text x="969.5" y="1948.15" font-size="18.8" font-weight="bold" text-anchor="end" >600</text>
<line x1="972.9" y1="2003.2" x2="979.1" y2="2003.2" stroke="#000" stroke-width="2" />
<text x="969.5" y="2010" font-size="18.8" font-weight="bold" text-anchor="end" >400</text>
<line x1="972.9" y1="2065.05" x2="979.1" y2="2065.05" stroke="#000" stroke-width="2" />
<text x="969.5" y="2071.85" font-size="18.8" font-weight="bold" text-anchor="end" >200</text>
<line x1="972.9" y1="2126.9" x2="979.1" y2="2126.9" stroke="#000" stroke-width="2" />
<text x="969.5" y="2133.7" font-size="18.8" font-weight="bold" text-anchor="end" >0</text>
<rect x="1451.95" y="2122.55" width="9.7" height="9.7"/>
<rect x="1525.55" y="2122.95" width="9.5" height="9.5" fill="none" stroke="#000" stroke-width="3.1"/>
<text x="1021.3" y="2150.6" font-size="19.5" font-weight="bold" text-anchor="end" transform="rotate(-45 1021.3 2150.6)">AAA_M</text>
<text x="1094.7" y="2150.6" font-size="19.5" font-weight="bold" text-anchor="end" transform="rotate(-45 1094.7 2150.6)">A_A_M_M</text>
<text x="1168.5" y="2150.6" font-size="19.5" font-weight="bold" text-anchor="end" transform="rotate(-45 1168.5 2150.6)">AAMM</text>
<text x="1242.1" y="2150.6" font-size="19.5" font-weight="bold" text-anchor="end" transform="rotate(-45 1242.1 2150.6)">A_M_M_M</text>
<text x="1315.6" y="2150.6" font-size="19.5" font-weight="bold" text-anchor="end" transform="rotate(-45 1315.6 2150.6)">AMA_M</text>
<text x="1389.2" y="2150.6" font-size="19.5" font-weight="bold" text-anchor="end" transform="rotate(-45 1389.2 2150.6)">AMAM</text>
<text x="1462.7" y="2150.6" font-size="19.5" font-weight="bold" text-anchor="end" transform="rotate(-45 1462.7 2150.6)">A_M_A_M</text>
<text x="1536.2" y="2150.6" font-size="19.5" font-weight="bold" text-anchor="end" transform="rotate(-45 1536.2 2150.6)">A_M</text>
<text x="1609.8" y="2150.6" font-size="19.5" font-weight="bold" text-anchor="end" transform="rotate(-45 1609.8 2150.6)">AM</text>
<text x="1311" y="2285.4" font-size="22.25" font-weight="bold" text-anchor="middle" >Vaccination regime</text>
</g>
</svg></body></html>
